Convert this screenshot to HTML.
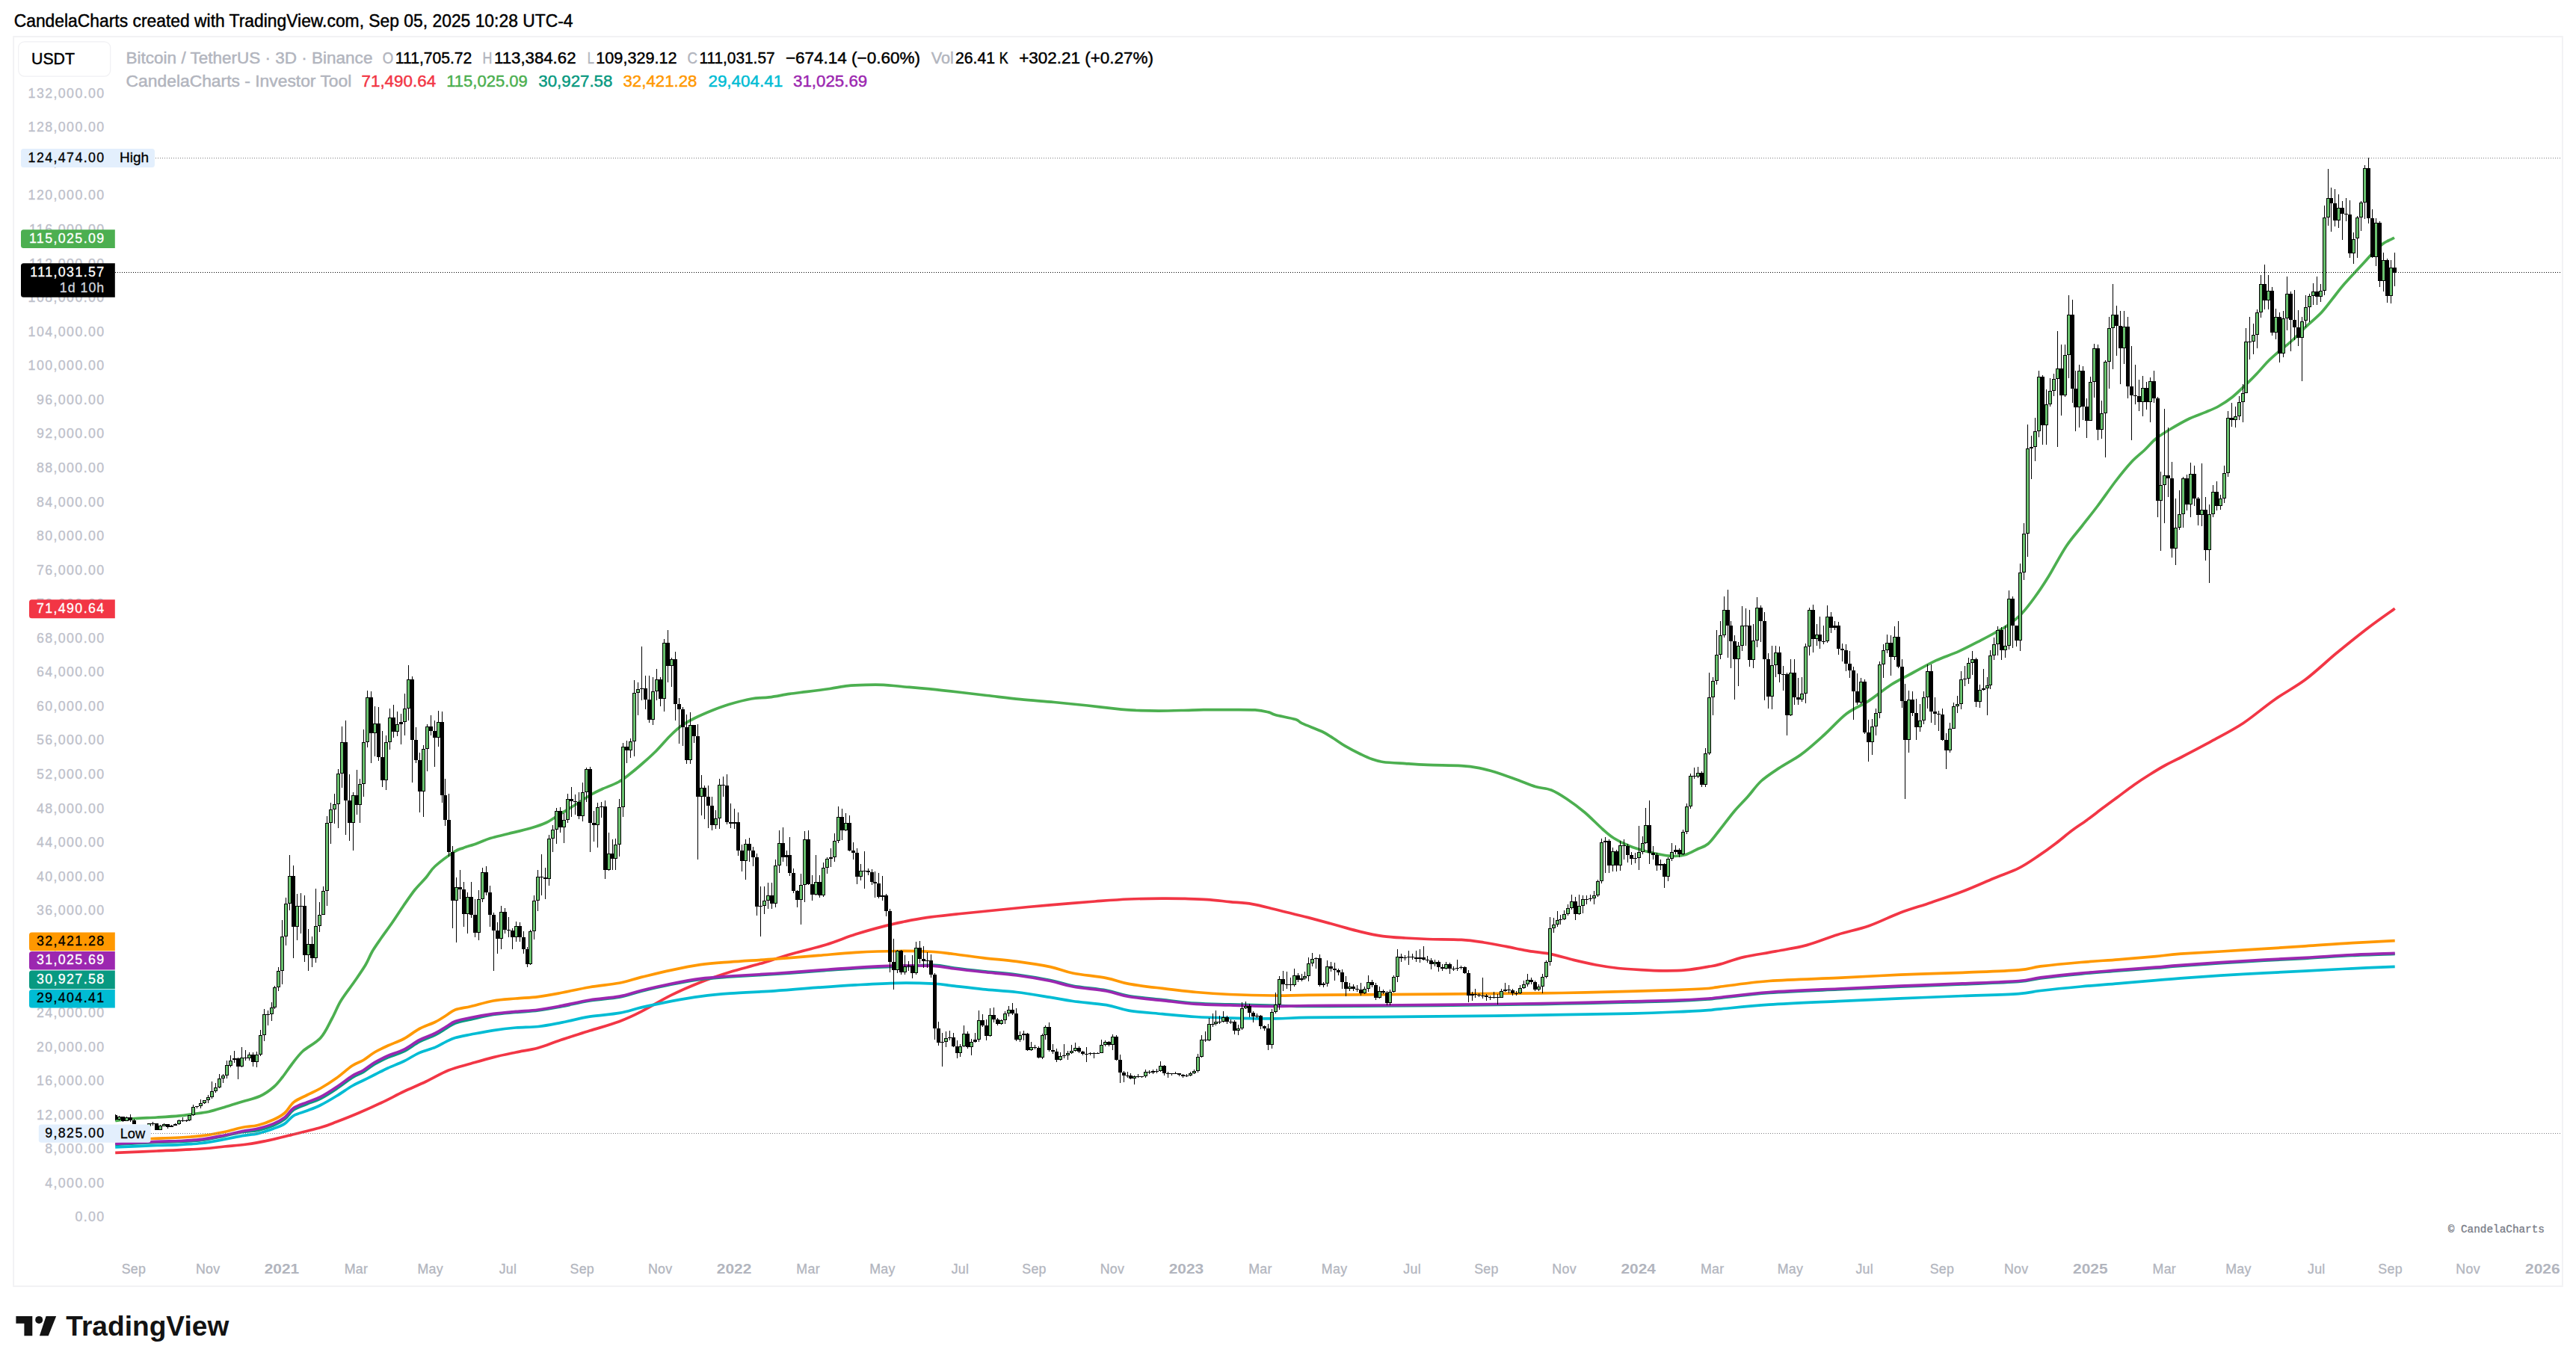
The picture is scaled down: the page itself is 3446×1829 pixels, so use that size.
<!DOCTYPE html>
<html lang="en"><head><meta charset="utf-8"><title>BTCUSDT 3D - CandelaCharts Investor Tool</title>
<style>html,body{margin:0;padding:0;background:#fff}body{width:3446px;height:1829px;overflow:hidden}svg{display:block}</style>
</head><body>
<svg width="3446" height="1829" viewBox="0 0 3446 1829" font-family="'Liberation Sans', sans-serif">
<rect width="3446" height="1829" fill="#fff"/>
<text x="18.7" y="36.1" font-size="23" fill="#000" textLength="747.8" lengthAdjust="spacingAndGlyphs" stroke="#000" stroke-width="0.45">CandelaCharts created with TradingView.com, Sep 05, 2025 10:28 UTC-4</text>
<rect x="18.1" y="49" width="3409.8" height="1671.9" fill="none" stroke="#f2f2f4" stroke-width="2"/>
<text x="140.6" y="1634.4" font-size="17.8" fill="#bdc0ca" text-anchor="end" stroke="#bdc0ca" stroke-width="0.3" letter-spacing="1.4">0.00</text>
<text x="140.6" y="1588.8" font-size="17.8" fill="#bdc0ca" text-anchor="end" stroke="#bdc0ca" stroke-width="0.3" letter-spacing="1.4">4,000.00</text>
<text x="140.6" y="1543.3" font-size="17.8" fill="#bdc0ca" text-anchor="end" stroke="#bdc0ca" stroke-width="0.3" letter-spacing="1.4">8,000.00</text>
<text x="140.6" y="1497.7" font-size="17.8" fill="#bdc0ca" text-anchor="end" stroke="#bdc0ca" stroke-width="0.3" letter-spacing="1.4">12,000.00</text>
<text x="140.6" y="1452.1" font-size="17.8" fill="#bdc0ca" text-anchor="end" stroke="#bdc0ca" stroke-width="0.3" letter-spacing="1.4">16,000.00</text>
<text x="140.6" y="1406.6" font-size="17.8" fill="#bdc0ca" text-anchor="end" stroke="#bdc0ca" stroke-width="0.3" letter-spacing="1.4">20,000.00</text>
<text x="140.6" y="1361.0" font-size="17.8" fill="#bdc0ca" text-anchor="end" stroke="#bdc0ca" stroke-width="0.3" letter-spacing="1.4">24,000.00</text>
<text x="140.6" y="1315.4" font-size="17.8" fill="#bdc0ca" text-anchor="end" stroke="#bdc0ca" stroke-width="0.3" letter-spacing="1.4">28,000.00</text>
<text x="140.6" y="1269.9" font-size="17.8" fill="#bdc0ca" text-anchor="end" stroke="#bdc0ca" stroke-width="0.3" letter-spacing="1.4">32,000.00</text>
<text x="140.6" y="1224.3" font-size="17.8" fill="#bdc0ca" text-anchor="end" stroke="#bdc0ca" stroke-width="0.3" letter-spacing="1.4">36,000.00</text>
<text x="140.6" y="1178.7" font-size="17.8" fill="#bdc0ca" text-anchor="end" stroke="#bdc0ca" stroke-width="0.3" letter-spacing="1.4">40,000.00</text>
<text x="140.6" y="1133.2" font-size="17.8" fill="#bdc0ca" text-anchor="end" stroke="#bdc0ca" stroke-width="0.3" letter-spacing="1.4">44,000.00</text>
<text x="140.6" y="1087.6" font-size="17.8" fill="#bdc0ca" text-anchor="end" stroke="#bdc0ca" stroke-width="0.3" letter-spacing="1.4">48,000.00</text>
<text x="140.6" y="1042.0" font-size="17.8" fill="#bdc0ca" text-anchor="end" stroke="#bdc0ca" stroke-width="0.3" letter-spacing="1.4">52,000.00</text>
<text x="140.6" y="996.4" font-size="17.8" fill="#bdc0ca" text-anchor="end" stroke="#bdc0ca" stroke-width="0.3" letter-spacing="1.4">56,000.00</text>
<text x="140.6" y="950.9" font-size="17.8" fill="#bdc0ca" text-anchor="end" stroke="#bdc0ca" stroke-width="0.3" letter-spacing="1.4">60,000.00</text>
<text x="140.6" y="905.3" font-size="17.8" fill="#bdc0ca" text-anchor="end" stroke="#bdc0ca" stroke-width="0.3" letter-spacing="1.4">64,000.00</text>
<text x="140.6" y="859.7" font-size="17.8" fill="#bdc0ca" text-anchor="end" stroke="#bdc0ca" stroke-width="0.3" letter-spacing="1.4">68,000.00</text>
<text x="140.6" y="814.2" font-size="17.8" fill="#bdc0ca" text-anchor="end" stroke="#bdc0ca" stroke-width="0.3" letter-spacing="1.4">72,000.00</text>
<text x="140.6" y="768.6" font-size="17.8" fill="#bdc0ca" text-anchor="end" stroke="#bdc0ca" stroke-width="0.3" letter-spacing="1.4">76,000.00</text>
<text x="140.6" y="723.0" font-size="17.8" fill="#bdc0ca" text-anchor="end" stroke="#bdc0ca" stroke-width="0.3" letter-spacing="1.4">80,000.00</text>
<text x="140.6" y="677.5" font-size="17.8" fill="#bdc0ca" text-anchor="end" stroke="#bdc0ca" stroke-width="0.3" letter-spacing="1.4">84,000.00</text>
<text x="140.6" y="631.9" font-size="17.8" fill="#bdc0ca" text-anchor="end" stroke="#bdc0ca" stroke-width="0.3" letter-spacing="1.4">88,000.00</text>
<text x="140.6" y="586.3" font-size="17.8" fill="#bdc0ca" text-anchor="end" stroke="#bdc0ca" stroke-width="0.3" letter-spacing="1.4">92,000.00</text>
<text x="140.6" y="540.8" font-size="17.8" fill="#bdc0ca" text-anchor="end" stroke="#bdc0ca" stroke-width="0.3" letter-spacing="1.4">96,000.00</text>
<text x="140.6" y="495.2" font-size="17.8" fill="#bdc0ca" text-anchor="end" stroke="#bdc0ca" stroke-width="0.3" letter-spacing="1.4">100,000.00</text>
<text x="140.6" y="449.6" font-size="17.8" fill="#bdc0ca" text-anchor="end" stroke="#bdc0ca" stroke-width="0.3" letter-spacing="1.4">104,000.00</text>
<text x="140.6" y="404.1" font-size="17.8" fill="#bdc0ca" text-anchor="end" stroke="#bdc0ca" stroke-width="0.3" letter-spacing="1.4">108,000.00</text>
<text x="140.6" y="358.5" font-size="17.8" fill="#bdc0ca" text-anchor="end" stroke="#bdc0ca" stroke-width="0.3" letter-spacing="1.4">112,000.00</text>
<text x="140.6" y="312.9" font-size="17.8" fill="#bdc0ca" text-anchor="end" stroke="#bdc0ca" stroke-width="0.3" letter-spacing="1.4">116,000.00</text>
<text x="140.6" y="267.4" font-size="17.8" fill="#bdc0ca" text-anchor="end" stroke="#bdc0ca" stroke-width="0.3" letter-spacing="1.4">120,000.00</text>
<text x="140.6" y="221.8" font-size="17.8" fill="#bdc0ca" text-anchor="end" stroke="#bdc0ca" stroke-width="0.3" letter-spacing="1.4">124,000.00</text>
<text x="140.6" y="176.2" font-size="17.8" fill="#bdc0ca" text-anchor="end" stroke="#bdc0ca" stroke-width="0.3" letter-spacing="1.4">128,000.00</text>
<text x="140.6" y="130.7" font-size="17.8" fill="#bdc0ca" text-anchor="end" stroke="#bdc0ca" stroke-width="0.3" letter-spacing="1.4">132,000.00</text>
<text x="178.9" y="1703.9" font-size="17.8" fill="#b2b5be" text-anchor="middle" stroke="#b2b5be" stroke-width="0.3" letter-spacing="0.3">Sep</text>
<text x="278.2" y="1703.9" font-size="17.8" fill="#b2b5be" text-anchor="middle" stroke="#b2b5be" stroke-width="0.3" letter-spacing="0.3">Nov</text>
<text x="377.0" y="1703.9" font-size="17.8" fill="#b2b5be" text-anchor="middle" font-weight="bold" textLength="46.5" lengthAdjust="spacingAndGlyphs">2021</text>
<text x="476.4" y="1703.9" font-size="17.8" fill="#b2b5be" text-anchor="middle" stroke="#b2b5be" stroke-width="0.3" letter-spacing="0.3">Mar</text>
<text x="575.7" y="1703.9" font-size="17.8" fill="#b2b5be" text-anchor="middle" stroke="#b2b5be" stroke-width="0.3" letter-spacing="0.3">May</text>
<text x="679.5" y="1703.9" font-size="17.8" fill="#b2b5be" text-anchor="middle" stroke="#b2b5be" stroke-width="0.3" letter-spacing="0.3">Jul</text>
<text x="778.8" y="1703.9" font-size="17.8" fill="#b2b5be" text-anchor="middle" stroke="#b2b5be" stroke-width="0.3" letter-spacing="0.3">Sep</text>
<text x="883.2" y="1703.9" font-size="17.8" fill="#b2b5be" text-anchor="middle" stroke="#b2b5be" stroke-width="0.3" letter-spacing="0.3">Nov</text>
<text x="982.1" y="1703.9" font-size="17.8" fill="#b2b5be" text-anchor="middle" font-weight="bold" textLength="46.5" lengthAdjust="spacingAndGlyphs">2022</text>
<text x="1081.1" y="1703.9" font-size="17.8" fill="#b2b5be" text-anchor="middle" stroke="#b2b5be" stroke-width="0.3" letter-spacing="0.3">Mar</text>
<text x="1180.4" y="1703.9" font-size="17.8" fill="#b2b5be" text-anchor="middle" stroke="#b2b5be" stroke-width="0.3" letter-spacing="0.3">May</text>
<text x="1284.5" y="1703.9" font-size="17.8" fill="#b2b5be" text-anchor="middle" stroke="#b2b5be" stroke-width="0.3" letter-spacing="0.3">Jul</text>
<text x="1383.5" y="1703.9" font-size="17.8" fill="#b2b5be" text-anchor="middle" stroke="#b2b5be" stroke-width="0.3" letter-spacing="0.3">Sep</text>
<text x="1487.9" y="1703.9" font-size="17.8" fill="#b2b5be" text-anchor="middle" stroke="#b2b5be" stroke-width="0.3" letter-spacing="0.3">Nov</text>
<text x="1587.0" y="1703.9" font-size="17.8" fill="#b2b5be" text-anchor="middle" font-weight="bold" textLength="46.5" lengthAdjust="spacingAndGlyphs">2023</text>
<text x="1686.0" y="1703.9" font-size="17.8" fill="#b2b5be" text-anchor="middle" stroke="#b2b5be" stroke-width="0.3" letter-spacing="0.3">Mar</text>
<text x="1785.1" y="1703.9" font-size="17.8" fill="#b2b5be" text-anchor="middle" stroke="#b2b5be" stroke-width="0.3" letter-spacing="0.3">May</text>
<text x="1889.1" y="1703.9" font-size="17.8" fill="#b2b5be" text-anchor="middle" stroke="#b2b5be" stroke-width="0.3" letter-spacing="0.3">Jul</text>
<text x="1988.4" y="1703.9" font-size="17.8" fill="#b2b5be" text-anchor="middle" stroke="#b2b5be" stroke-width="0.3" letter-spacing="0.3">Sep</text>
<text x="2092.6" y="1703.9" font-size="17.8" fill="#b2b5be" text-anchor="middle" stroke="#b2b5be" stroke-width="0.3" letter-spacing="0.3">Nov</text>
<text x="2191.7" y="1703.9" font-size="17.8" fill="#b2b5be" text-anchor="middle" font-weight="bold" textLength="46.5" lengthAdjust="spacingAndGlyphs">2024</text>
<text x="2290.7" y="1703.9" font-size="17.8" fill="#b2b5be" text-anchor="middle" stroke="#b2b5be" stroke-width="0.3" letter-spacing="0.3">Mar</text>
<text x="2394.9" y="1703.9" font-size="17.8" fill="#b2b5be" text-anchor="middle" stroke="#b2b5be" stroke-width="0.3" letter-spacing="0.3">May</text>
<text x="2494.2" y="1703.9" font-size="17.8" fill="#b2b5be" text-anchor="middle" stroke="#b2b5be" stroke-width="0.3" letter-spacing="0.3">Jul</text>
<text x="2597.9" y="1703.9" font-size="17.8" fill="#b2b5be" text-anchor="middle" stroke="#b2b5be" stroke-width="0.3" letter-spacing="0.3">Sep</text>
<text x="2697.2" y="1703.9" font-size="17.8" fill="#b2b5be" text-anchor="middle" stroke="#b2b5be" stroke-width="0.3" letter-spacing="0.3">Nov</text>
<text x="2796.3" y="1703.9" font-size="17.8" fill="#b2b5be" text-anchor="middle" font-weight="bold" textLength="46.5" lengthAdjust="spacingAndGlyphs">2025</text>
<text x="2895.3" y="1703.9" font-size="17.8" fill="#b2b5be" text-anchor="middle" stroke="#b2b5be" stroke-width="0.3" letter-spacing="0.3">Mar</text>
<text x="2994.5" y="1703.9" font-size="17.8" fill="#b2b5be" text-anchor="middle" stroke="#b2b5be" stroke-width="0.3" letter-spacing="0.3">May</text>
<text x="3098.8" y="1703.9" font-size="17.8" fill="#b2b5be" text-anchor="middle" stroke="#b2b5be" stroke-width="0.3" letter-spacing="0.3">Jul</text>
<text x="3197.6" y="1703.9" font-size="17.8" fill="#b2b5be" text-anchor="middle" stroke="#b2b5be" stroke-width="0.3" letter-spacing="0.3">Sep</text>
<text x="3301.6" y="1703.9" font-size="17.8" fill="#b2b5be" text-anchor="middle" stroke="#b2b5be" stroke-width="0.3" letter-spacing="0.3">Nov</text>
<text x="3401.3" y="1703.9" font-size="17.8" fill="#b2b5be" text-anchor="middle" font-weight="bold" textLength="46.5" lengthAdjust="spacingAndGlyphs">2026</text>
<g fill="none" stroke-width="3.7" stroke-linejoin="round" stroke-linecap="butt">
<path d="M154.2,1542.4C163.5,1542.0 190.7,1540.9 210.0,1540.0C229.3,1539.1 255.0,1538.0 270.0,1537.0C285.0,1536.0 290.0,1535.0 300.0,1534.0C310.0,1533.0 320.0,1532.4 330.0,1531.0C340.0,1529.6 350.0,1527.7 360.0,1525.6C370.0,1523.5 378.5,1521.3 390.0,1518.4C401.5,1515.6 419.0,1511.4 429.0,1508.5C439.0,1505.6 441.5,1504.3 450.0,1501.0C458.5,1497.8 470.0,1493.3 480.0,1489.0C490.0,1484.8 500.0,1480.3 510.0,1475.5C520.0,1470.8 530.0,1465.3 540.0,1460.5C550.0,1455.8 560.0,1451.8 570.0,1447.0C580.0,1442.3 590.0,1436.0 600.0,1432.0C610.0,1428.0 620.0,1425.9 630.0,1423.0C640.0,1420.1 650.0,1417.1 660.0,1414.6C670.0,1412.1 680.0,1410.1 690.0,1408.0C700.0,1405.9 710.0,1404.8 720.0,1402.0C730.0,1399.3 738.5,1395.3 750.0,1391.5C761.5,1387.7 775.8,1383.3 788.9,1379.1C802.0,1375.0 816.9,1371.0 828.4,1366.7C839.9,1362.4 846.5,1359.3 858.0,1353.4C869.6,1347.6 884.4,1338.2 897.6,1331.7C910.7,1325.2 923.9,1319.5 937.1,1314.3C950.2,1309.1 963.4,1304.6 976.6,1300.5C989.7,1296.4 1002.9,1293.5 1016.1,1289.6C1029.3,1285.8 1040.8,1281.5 1055.6,1277.2C1070.4,1272.9 1090.2,1268.5 1105.0,1264.0C1119.8,1259.4 1131.3,1254.3 1144.5,1250.1C1157.7,1245.9 1173.1,1241.7 1184.0,1238.9C1194.9,1236.0 1200.7,1234.9 1210.0,1233.0C1219.3,1231.1 1227.5,1229.4 1240.0,1227.6C1252.5,1225.9 1270.0,1224.1 1285.0,1222.5C1300.0,1220.9 1315.0,1219.5 1330.0,1218.0C1345.0,1216.5 1360.0,1214.9 1375.0,1213.5C1390.0,1212.1 1405.0,1210.9 1420.0,1209.6C1435.0,1208.4 1450.0,1207.1 1465.0,1206.0C1480.0,1204.9 1495.0,1203.7 1510.0,1203.0C1525.0,1202.4 1542.5,1202.2 1555.0,1202.1C1567.5,1202.0 1575.0,1202.2 1585.0,1202.4C1595.0,1202.7 1605.0,1202.9 1615.0,1203.6C1625.0,1204.3 1635.0,1205.6 1645.0,1206.6C1655.0,1207.6 1665.0,1208.0 1675.0,1209.6C1685.0,1211.3 1695.0,1214.1 1705.0,1216.5C1715.0,1218.9 1727.5,1222.2 1735.0,1224.0C1742.5,1225.9 1740.8,1225.2 1750.0,1227.6C1759.2,1230.0 1778.3,1235.3 1790.0,1238.5C1801.7,1241.7 1810.0,1244.3 1820.0,1246.6C1830.0,1249.0 1840.0,1251.2 1850.0,1252.6C1860.0,1254.0 1870.0,1254.4 1880.0,1255.0C1890.0,1255.7 1897.5,1256.1 1910.0,1256.5C1922.5,1256.9 1942.5,1256.7 1955.0,1257.4C1967.5,1258.2 1975.0,1259.5 1985.0,1261.0C1995.0,1262.5 2005.0,1264.5 2015.0,1266.4C2025.0,1268.3 2035.0,1270.7 2045.0,1272.4C2055.0,1274.1 2065.0,1274.6 2075.0,1276.6C2085.0,1278.6 2095.0,1282.0 2105.0,1284.4C2115.0,1286.8 2125.0,1289.2 2135.0,1291.0C2145.0,1292.9 2155.0,1294.4 2165.0,1295.5C2175.0,1296.6 2185.0,1297.1 2195.0,1297.6C2205.0,1298.2 2215.0,1298.8 2225.0,1298.8C2235.0,1298.9 2245.0,1298.8 2255.0,1297.9C2265.0,1297.0 2277.5,1294.7 2285.0,1293.4C2292.5,1292.2 2291.9,1292.6 2300.0,1290.4C2308.1,1288.2 2320.9,1283.3 2333.4,1280.4C2345.9,1277.5 2361.2,1275.6 2375.1,1272.9C2389.0,1270.3 2402.9,1268.3 2416.8,1264.6C2430.7,1260.8 2444.6,1254.7 2458.5,1250.4C2472.4,1246.1 2486.3,1243.6 2500.2,1238.7C2514.1,1233.9 2528.0,1226.4 2541.9,1221.2C2555.8,1216.0 2569.7,1212.2 2583.6,1207.4C2597.5,1202.7 2611.4,1198.2 2625.3,1192.8C2639.2,1187.5 2654.5,1180.5 2667.0,1175.3C2679.5,1170.1 2690.6,1166.4 2700.4,1161.6C2710.1,1156.7 2717.1,1151.7 2725.4,1146.1C2733.7,1140.6 2742.8,1134.0 2750.4,1128.2C2758.1,1122.4 2764.3,1116.7 2771.3,1111.5C2778.2,1106.3 2785.2,1102.0 2792.1,1096.9C2799.1,1091.9 2806.0,1086.3 2813.0,1081.1C2819.9,1075.9 2826.9,1070.8 2833.8,1065.7C2840.8,1060.5 2847.7,1055.1 2854.7,1050.2C2861.6,1045.4 2868.6,1040.8 2875.5,1036.5C2882.5,1032.1 2889.4,1027.8 2896.4,1024.0C2903.3,1020.1 2906.8,1018.9 2917.2,1013.5C2927.6,1008.1 2945.0,999.1 2958.9,991.4C2972.8,983.8 2986.7,976.8 3000.6,967.7C3014.5,958.5 3028.4,946.1 3042.3,936.4C3056.2,926.6 3070.1,919.7 3084.0,909.3C3097.9,898.8 3111.8,885.3 3125.7,873.8C3139.6,862.4 3154.4,850.4 3167.4,840.5C3180.4,830.5 3197.7,818.6 3203.7,814.2" stroke="#f23645"/>
<path d="M154.2,1499.5C158.5,1499.0 170.7,1497.3 180.0,1496.5C189.3,1495.8 200.0,1495.6 210.0,1495.0C220.0,1494.4 232.0,1493.7 240.0,1492.9C248.0,1492.2 251.5,1491.4 258.0,1490.5C264.5,1489.6 272.0,1489.0 279.0,1487.5C286.0,1486.0 292.5,1483.8 300.0,1481.5C307.5,1479.3 316.0,1476.5 324.0,1474.0C332.0,1471.5 341.0,1469.8 348.0,1466.5C355.0,1463.3 361.0,1458.8 366.0,1454.5C371.0,1450.3 374.0,1446.0 378.0,1441.0C382.0,1436.0 385.5,1430.3 390.0,1424.5C394.5,1418.8 398.5,1412.5 405.0,1406.5C411.5,1400.5 422.5,1395.8 429.0,1388.5C435.5,1381.3 439.5,1371.3 444.0,1363.0C448.5,1354.8 451.0,1347.3 456.0,1339.0C461.0,1330.8 468.5,1321.5 474.0,1313.5C479.5,1305.5 485.0,1297.8 489.0,1291.0C493.0,1284.3 494.5,1279.0 498.0,1273.0C501.5,1267.0 505.5,1261.5 510.0,1255.0C514.5,1248.5 520.0,1241.3 525.0,1234.0C530.0,1226.8 535.0,1218.8 540.0,1211.5C545.0,1204.3 550.0,1196.8 555.0,1190.5C560.0,1184.3 565.5,1179.3 570.0,1174.0C574.5,1168.8 575.7,1164.7 582.0,1159.0C588.3,1153.3 601.7,1143.6 608.0,1139.5C614.3,1135.4 615.0,1136.3 620.0,1134.4C625.0,1132.6 632.0,1130.6 638.0,1128.4C644.0,1126.3 649.0,1123.7 656.0,1121.5C663.0,1119.4 671.0,1117.8 680.0,1115.5C689.0,1113.3 701.5,1110.5 710.0,1108.0C718.5,1105.5 724.5,1103.6 731.0,1100.5C737.5,1097.4 742.5,1093.4 749.0,1089.4C755.5,1085.4 763.0,1080.9 770.0,1076.5C777.0,1072.1 785.0,1066.5 791.0,1063.0C797.0,1059.5 800.0,1058.3 806.0,1055.5C812.0,1052.8 821.0,1049.8 827.0,1046.5C833.0,1043.3 836.5,1040.3 842.0,1036.0C847.5,1031.8 854.0,1026.3 860.0,1021.0C866.0,1015.8 872.0,1010.5 878.0,1004.5C884.0,998.5 890.5,990.5 896.0,985.0C901.5,979.5 905.5,975.5 911.0,971.5C916.5,967.5 921.8,964.6 929.0,961.0C936.2,957.4 946.3,953.1 954.0,950.0C961.7,946.9 966.5,945.0 975.0,942.5C983.5,940.0 996.0,936.6 1005.0,935.0C1014.0,933.4 1020.5,934.0 1029.0,932.9C1037.5,931.8 1047.5,929.7 1056.0,928.4C1064.5,927.2 1071.0,926.6 1080.0,925.4C1089.0,924.3 1101.0,922.8 1110.0,921.5C1119.0,920.2 1126.0,918.5 1134.0,917.6C1142.0,916.8 1150.0,916.6 1158.0,916.4C1166.0,916.2 1174.0,916.1 1182.0,916.4C1190.0,916.8 1193.0,917.3 1206.0,918.5C1219.0,919.7 1241.0,921.6 1260.0,923.6C1279.0,925.6 1302.5,928.5 1320.0,930.5C1337.5,932.5 1350.0,934.1 1365.0,935.6C1380.0,937.1 1395.0,938.1 1410.0,939.5C1425.0,940.9 1440.0,942.4 1455.0,944.0C1470.0,945.6 1489.2,948.0 1500.0,949.1C1510.8,950.2 1511.7,950.2 1520.0,950.5C1528.3,950.8 1540.0,951.1 1550.0,951.1C1560.0,951.1 1570.0,950.8 1580.0,950.5C1590.0,950.3 1600.0,949.8 1610.0,949.6C1620.0,949.5 1628.5,949.6 1640.0,949.6C1651.5,949.7 1669.5,949.4 1679.0,949.9C1688.5,950.5 1692.5,951.8 1697.0,952.9C1701.5,954.0 1700.0,954.9 1706.0,956.5C1712.0,958.1 1727.0,960.6 1733.0,962.5C1739.0,964.4 1736.0,965.2 1742.0,967.9C1748.0,970.7 1762.0,975.7 1769.0,979.0C1776.0,982.4 1779.0,984.9 1784.0,988.0C1789.0,991.2 1793.0,994.4 1799.0,997.9C1805.0,1001.4 1814.0,1006.1 1820.0,1009.0C1826.0,1011.9 1830.0,1013.9 1835.0,1015.6C1840.0,1017.4 1842.5,1018.5 1850.0,1019.5C1857.5,1020.5 1870.0,1021.0 1880.0,1021.6C1890.0,1022.3 1897.5,1022.9 1910.0,1023.4C1922.5,1023.9 1943.5,1023.9 1955.0,1024.6C1966.5,1025.3 1971.5,1026.2 1979.0,1027.6C1986.5,1029.0 1991.5,1030.4 2000.0,1033.0C2008.5,1035.7 2021.0,1040.3 2030.0,1043.5C2039.0,1046.8 2046.5,1050.3 2054.0,1052.5C2061.5,1054.8 2068.0,1054.3 2075.0,1057.0C2082.0,1059.8 2088.5,1064.0 2096.0,1069.0C2103.5,1074.0 2112.0,1080.3 2120.0,1087.0C2128.0,1093.8 2137.5,1103.8 2144.0,1109.5C2150.5,1115.3 2153.0,1117.8 2159.0,1121.5C2165.0,1125.3 2172.5,1129.0 2180.0,1132.0C2187.5,1135.0 2196.5,1137.5 2204.0,1139.5C2211.5,1141.5 2219.0,1143.0 2225.0,1144.0C2231.0,1145.0 2235.0,1145.6 2240.0,1145.5C2245.0,1145.4 2250.0,1144.9 2255.0,1143.4C2260.0,1141.9 2265.0,1138.9 2270.0,1136.5C2275.0,1134.1 2280.0,1133.3 2285.0,1129.0C2290.0,1124.8 2294.2,1118.3 2300.0,1111.0C2305.8,1103.8 2313.7,1093.0 2320.0,1085.5C2326.3,1078.0 2332.0,1072.8 2338.0,1066.0C2344.0,1059.3 2349.0,1051.4 2356.0,1045.0C2363.0,1038.6 2371.0,1033.6 2380.0,1027.6C2389.0,1021.6 2400.0,1016.4 2410.0,1009.0C2420.0,1001.7 2430.0,992.5 2440.0,983.5C2450.0,974.5 2460.0,962.7 2470.0,955.0C2480.0,947.4 2490.0,944.1 2500.0,937.6C2510.0,931.1 2520.0,922.4 2530.0,916.0C2540.0,909.7 2550.0,904.9 2560.0,899.5C2570.0,894.1 2580.0,888.3 2590.0,883.6C2600.0,879.0 2610.0,876.1 2620.0,871.6C2630.0,867.1 2642.0,860.7 2650.0,856.6C2658.0,852.5 2662.0,850.4 2668.0,847.0C2674.0,843.7 2680.0,840.8 2686.0,836.5C2692.0,832.3 2698.0,827.8 2704.0,821.5C2710.0,815.3 2716.0,807.3 2722.0,799.0C2728.0,790.8 2733.0,783.3 2740.0,772.0C2747.0,760.7 2756.5,742.3 2764.0,731.0C2771.5,719.7 2778.0,713.0 2785.0,704.0C2792.0,695.0 2798.5,687.0 2806.0,677.0C2813.5,667.0 2822.5,653.8 2830.0,644.0C2837.5,634.3 2844.5,625.5 2851.0,618.5C2857.5,611.5 2863.5,607.3 2869.0,602.0C2874.5,596.8 2878.5,591.5 2884.0,587.0C2889.5,582.5 2894.5,579.5 2902.0,575.0C2909.5,570.5 2921.0,563.9 2929.0,560.0C2937.0,556.1 2943.5,554.4 2950.0,551.6C2956.5,548.9 2962.0,546.9 2968.0,543.5C2974.0,540.2 2980.0,536.3 2986.0,531.5C2992.0,526.8 2998.5,520.3 3004.0,515.0C3009.5,509.8 3014.0,505.3 3019.0,500.0C3024.0,494.8 3029.0,488.5 3034.0,483.5C3039.0,478.5 3043.5,474.8 3049.0,470.0C3054.5,465.3 3061.0,460.5 3067.0,455.0C3073.0,449.5 3078.5,443.3 3085.0,437.0C3091.5,430.8 3099.5,424.5 3106.0,417.5C3112.5,410.5 3119.0,401.3 3124.0,395.0C3129.0,388.8 3129.6,387.3 3136.0,380.0C3142.4,372.7 3156.0,358.3 3162.5,351.2C3169.0,344.2 3170.8,341.7 3175.0,337.5C3179.2,333.3 3184.2,328.8 3187.5,326.2C3190.8,323.7 3192.4,323.3 3195.0,322.0C3197.6,320.7 3201.7,318.9 3203.0,318.2" stroke="#4caf50"/>
<path d="M154.2,1531.4C163.5,1530.9 195.7,1529.1 210.0,1528.4C224.3,1527.8 230.0,1528.0 240.0,1527.5C250.0,1527.0 260.0,1526.7 270.0,1525.4C280.0,1524.2 291.0,1521.8 300.0,1520.0C309.0,1518.2 316.5,1515.9 324.0,1514.6C331.5,1513.3 338.0,1513.9 345.0,1512.4C352.0,1510.9 360.0,1508.3 366.0,1505.8C372.0,1503.3 376.5,1500.9 381.0,1497.4C385.5,1493.9 388.0,1488.2 393.0,1484.8C398.0,1481.4 405.0,1479.5 411.0,1477.0C417.0,1474.5 422.5,1473.2 429.0,1469.8C435.5,1466.5 443.0,1461.6 450.0,1456.9C457.0,1452.3 465.0,1445.7 471.0,1441.9C477.0,1438.2 481.0,1437.4 486.0,1434.4C491.0,1431.4 495.5,1427.2 501.0,1423.9C506.5,1420.7 512.5,1417.8 519.0,1414.9C525.5,1412.1 533.0,1410.3 540.0,1406.8C547.0,1403.3 554.0,1397.6 561.0,1393.9C568.0,1390.3 576.0,1387.9 582.0,1384.9C588.0,1381.9 592.5,1378.6 597.0,1375.9C601.5,1373.3 603.5,1371.0 609.0,1369.0C614.5,1367.0 621.5,1365.8 630.0,1363.9C638.5,1362.0 650.0,1359.0 660.0,1357.4C670.0,1355.8 680.0,1355.3 690.0,1354.4C700.0,1353.5 710.0,1353.3 720.0,1352.0C730.0,1350.8 738.5,1349.1 750.0,1346.9C761.5,1344.7 775.8,1341.2 788.9,1339.0C802.0,1336.9 816.9,1336.2 828.4,1334.1C839.9,1332.0 846.5,1329.0 858.0,1326.2C869.6,1323.4 884.4,1319.9 897.6,1317.3C910.7,1314.7 923.9,1312.1 937.1,1310.4C950.2,1308.7 960.1,1308.2 976.6,1307.0C993.0,1305.9 1016.1,1304.8 1035.8,1303.5C1055.6,1302.2 1077.0,1300.5 1095.1,1299.1C1113.2,1297.8 1127.0,1296.6 1144.5,1295.6C1162.0,1294.6 1182.6,1293.9 1200.0,1293.2C1217.4,1292.5 1236.3,1291.1 1249.0,1291.4C1261.7,1291.7 1265.0,1293.7 1276.0,1295.0C1287.0,1296.4 1301.0,1298.0 1315.0,1299.5C1329.0,1301.0 1345.0,1302.0 1360.0,1304.0C1375.0,1306.0 1392.5,1309.0 1405.0,1311.5C1417.5,1314.0 1422.5,1316.8 1435.0,1319.0C1447.5,1321.3 1467.5,1322.8 1480.0,1325.0C1492.5,1327.3 1497.5,1330.4 1510.0,1332.5C1522.5,1334.6 1540.0,1336.0 1555.0,1337.6C1570.0,1339.3 1585.0,1341.4 1600.0,1342.4C1615.0,1343.5 1627.5,1343.4 1645.0,1343.9C1662.5,1344.4 1687.5,1345.0 1705.0,1345.4C1722.5,1345.8 1725.8,1346.4 1750.0,1346.5C1774.2,1346.6 1808.3,1346.3 1850.0,1346.0C1891.7,1345.7 1960.0,1345.0 2000.0,1344.5C2040.0,1344.0 2060.0,1343.6 2090.0,1343.0C2120.0,1342.4 2155.0,1341.5 2180.0,1340.9C2205.0,1340.3 2222.5,1340.1 2240.0,1339.4C2257.5,1338.8 2275.0,1337.7 2285.0,1337.0C2295.0,1336.4 2286.4,1336.9 2300.0,1335.5C2313.6,1334.1 2340.3,1330.5 2366.8,1328.5C2393.2,1326.6 2429.3,1325.3 2458.5,1324.0C2487.7,1322.6 2514.1,1321.4 2541.9,1320.2C2569.7,1319.0 2598.9,1318.0 2625.3,1316.9C2651.7,1315.8 2683.0,1314.8 2700.4,1313.5C2717.8,1312.2 2715.7,1310.7 2729.6,1308.9C2743.5,1307.2 2766.4,1304.8 2783.8,1303.1C2801.2,1301.4 2817.1,1300.3 2833.8,1298.9C2850.5,1297.6 2870.0,1296.3 2883.9,1295.2C2897.8,1294.1 2897.8,1293.6 2917.2,1292.3C2936.7,1290.9 2972.8,1288.5 3000.6,1286.8C3028.4,1285.2 3059.7,1283.6 3084.0,1282.3C3108.4,1280.9 3126.6,1279.5 3146.6,1278.5C3166.5,1277.5 3194.2,1276.8 3203.7,1276.4" stroke="#089981"/>
<path d="M154.2,1525.0C162.3,1524.8 188.2,1524.0 202.5,1523.5C216.8,1523.0 228.8,1522.7 240.0,1522.0C251.3,1521.4 260.0,1520.9 270.0,1519.6C280.0,1518.4 291.0,1516.4 300.0,1514.5C309.0,1512.7 316.5,1510.0 324.0,1508.5C331.5,1507.0 338.0,1507.3 345.0,1505.5C352.0,1503.8 360.0,1500.8 366.0,1498.0C372.0,1495.3 376.5,1492.9 381.0,1489.0C385.5,1485.1 388.0,1478.6 393.0,1474.6C398.0,1470.6 405.0,1468.1 411.0,1465.0C417.0,1461.9 422.5,1459.8 429.0,1456.0C435.5,1452.3 443.0,1447.5 450.0,1442.5C457.0,1437.5 465.0,1430.0 471.0,1426.0C477.0,1422.0 481.0,1421.5 486.0,1418.5C491.0,1415.5 495.5,1411.3 501.0,1408.0C506.5,1404.8 512.5,1402.0 519.0,1399.0C525.5,1396.0 533.0,1393.8 540.0,1390.0C547.0,1386.3 554.0,1380.3 561.0,1376.5C568.0,1372.8 576.0,1370.5 582.0,1367.5C588.0,1364.5 592.5,1361.3 597.0,1358.5C601.5,1355.8 603.5,1353.0 609.0,1351.0C614.5,1349.0 621.5,1348.5 630.0,1346.5C638.5,1344.5 650.0,1340.8 660.0,1339.0C670.0,1337.3 680.0,1336.9 690.0,1336.0C700.0,1335.1 710.0,1334.9 720.0,1333.6C730.0,1332.4 738.5,1330.7 750.0,1328.5C761.5,1326.3 775.8,1322.9 788.9,1320.7C802.0,1318.5 816.9,1317.5 828.4,1315.3C839.9,1313.1 846.5,1310.3 858.0,1307.4C869.6,1304.6 884.4,1300.9 897.6,1298.1C910.7,1295.3 923.9,1292.5 937.1,1290.6C950.2,1288.8 960.1,1288.3 976.6,1287.1C993.0,1285.8 1016.1,1284.6 1035.8,1283.1C1055.6,1281.7 1077.0,1279.8 1095.1,1278.4C1113.2,1276.9 1127.0,1275.4 1144.5,1274.4C1162.0,1273.4 1182.6,1272.6 1200.0,1272.5C1217.4,1272.3 1236.3,1272.8 1249.0,1273.5C1261.7,1274.2 1265.0,1275.2 1276.0,1276.5C1287.0,1277.9 1301.0,1280.0 1315.0,1281.6C1329.0,1283.3 1345.0,1284.4 1360.0,1286.4C1375.0,1288.4 1392.5,1291.0 1405.0,1293.6C1417.5,1296.2 1422.5,1299.5 1435.0,1302.0C1447.5,1304.5 1467.5,1306.2 1480.0,1308.6C1492.5,1311.0 1497.5,1314.1 1510.0,1316.4C1522.5,1318.7 1540.0,1320.6 1555.0,1322.4C1570.0,1324.3 1585.0,1326.2 1600.0,1327.5C1615.0,1328.9 1627.5,1329.8 1645.0,1330.5C1662.5,1331.3 1687.5,1331.9 1705.0,1332.0C1722.5,1332.2 1725.8,1331.6 1750.0,1331.4C1774.2,1331.2 1808.3,1330.9 1850.0,1330.6C1891.7,1330.3 1960.0,1329.8 2000.0,1329.4C2040.0,1329.1 2060.0,1329.0 2090.0,1328.5C2120.0,1328.0 2155.0,1327.1 2180.0,1326.4C2205.0,1325.8 2222.5,1325.3 2240.0,1324.6C2257.5,1324.0 2275.0,1323.2 2285.0,1322.5C2295.0,1321.8 2286.4,1322.1 2300.0,1320.4C2313.6,1318.7 2340.3,1314.5 2366.8,1312.5C2393.2,1310.5 2429.3,1309.7 2458.5,1308.4C2487.7,1307.0 2514.1,1305.4 2541.9,1304.2C2569.7,1303.0 2598.9,1302.3 2625.3,1301.3C2651.7,1300.2 2683.0,1299.3 2700.4,1297.9C2717.8,1296.5 2715.7,1294.7 2729.6,1292.9C2743.5,1291.2 2766.4,1289.0 2783.8,1287.5C2801.2,1286.0 2817.1,1285.1 2833.8,1283.8C2850.5,1282.4 2870.0,1280.8 2883.9,1279.6C2897.8,1278.3 2897.8,1277.6 2917.2,1276.2C2936.7,1274.9 2972.8,1273.0 3000.6,1271.2C3028.4,1269.5 3059.7,1267.4 3084.0,1265.8C3108.4,1264.2 3126.6,1262.8 3146.6,1261.7C3166.5,1260.5 3194.2,1259.2 3203.7,1258.7" stroke="#ff9800"/>
<path d="M154.2,1534.9C163.5,1534.5 195.7,1533.1 210.0,1532.5C224.3,1532.0 230.0,1532.1 240.0,1531.6C250.0,1531.1 260.0,1530.7 270.0,1529.5C280.0,1528.3 291.0,1526.1 300.0,1524.4C309.0,1522.8 316.5,1520.9 324.0,1519.6C331.5,1518.3 338.0,1518.2 345.0,1516.6C352.0,1515.0 360.0,1512.2 366.0,1510.0C372.0,1507.8 376.5,1506.3 381.0,1503.4C385.5,1500.5 388.0,1495.5 393.0,1492.6C398.0,1489.7 405.0,1488.4 411.0,1486.0C417.0,1483.7 422.5,1481.8 429.0,1478.5C435.5,1475.3 443.0,1470.8 450.0,1466.5C457.0,1462.3 465.0,1456.5 471.0,1453.0C477.0,1449.5 481.0,1448.0 486.0,1445.5C491.0,1443.0 495.5,1440.8 501.0,1438.0C506.5,1435.3 512.5,1432.0 519.0,1429.0C525.5,1426.0 533.0,1423.4 540.0,1420.0C547.0,1416.6 554.0,1411.7 561.0,1408.6C568.0,1405.5 576.0,1403.9 582.0,1401.4C588.0,1398.9 592.5,1395.8 597.0,1393.6C601.5,1391.5 603.5,1390.1 609.0,1388.5C614.5,1386.9 621.5,1385.7 630.0,1384.0C638.5,1382.4 650.0,1380.1 660.0,1378.6C670.0,1377.1 680.0,1375.9 690.0,1375.0C700.0,1374.2 710.0,1374.6 720.0,1373.5C730.0,1372.4 738.5,1370.6 750.0,1368.4C761.5,1366.2 775.8,1362.3 788.9,1360.2C802.0,1358.0 816.9,1357.5 828.4,1355.4C839.9,1353.4 846.5,1350.6 858.0,1347.9C869.6,1345.3 884.4,1342.1 897.6,1339.6C910.7,1337.2 923.9,1334.8 937.1,1333.1C950.2,1331.4 960.1,1330.4 976.6,1329.2C993.0,1327.9 1016.1,1327.1 1035.8,1325.8C1055.6,1324.5 1077.0,1322.6 1095.1,1321.2C1113.2,1319.9 1127.0,1318.9 1144.5,1317.9C1162.0,1316.9 1182.6,1315.6 1200.0,1315.3C1217.4,1315.0 1236.3,1315.5 1249.0,1316.1C1261.7,1316.7 1265.0,1317.9 1276.0,1319.1C1287.0,1320.4 1301.0,1322.2 1315.0,1323.6C1329.0,1325.0 1345.0,1325.7 1360.0,1327.5C1375.0,1329.3 1392.5,1332.4 1405.0,1334.4C1417.5,1336.4 1422.5,1337.8 1435.0,1339.5C1447.5,1341.2 1467.5,1342.5 1480.0,1344.6C1492.5,1346.7 1497.5,1350.1 1510.0,1352.1C1522.5,1354.1 1540.0,1355.2 1555.0,1356.6C1570.0,1358.0 1585.0,1359.6 1600.0,1360.5C1615.0,1361.4 1627.5,1361.6 1645.0,1362.0C1662.5,1362.4 1687.5,1363.0 1705.0,1362.9C1722.5,1362.8 1725.8,1361.8 1750.0,1361.4C1774.2,1361.0 1808.3,1361.0 1850.0,1360.6C1891.7,1360.2 1960.0,1359.6 2000.0,1359.1C2040.0,1358.6 2060.0,1358.1 2090.0,1357.6C2120.0,1357.1 2155.0,1356.7 2180.0,1356.1C2205.0,1355.5 2222.5,1354.8 2240.0,1354.0C2257.5,1353.3 2275.0,1352.3 2285.0,1351.6C2295.0,1351.0 2286.4,1351.3 2300.0,1350.1C2313.6,1348.9 2340.3,1346.0 2366.8,1344.2C2393.2,1342.5 2429.3,1341.0 2458.5,1339.6C2487.7,1338.2 2514.1,1337.1 2541.9,1335.9C2569.7,1334.7 2598.9,1333.6 2625.3,1332.5C2651.7,1331.5 2683.0,1330.8 2700.4,1329.6C2717.8,1328.4 2715.7,1327.1 2729.6,1325.5C2743.5,1323.9 2766.4,1321.6 2783.8,1320.0C2801.2,1318.4 2817.1,1317.3 2833.8,1315.9C2850.5,1314.5 2870.0,1312.9 2883.9,1311.7C2897.8,1310.5 2897.8,1310.2 2917.2,1308.8C2936.7,1307.4 2972.8,1305.0 3000.6,1303.4C3028.4,1301.8 3059.7,1300.4 3084.0,1299.2C3108.4,1297.9 3126.6,1296.8 3146.6,1295.8C3166.5,1294.9 3194.2,1293.8 3203.7,1293.3" stroke="#00bcd4"/>
<path d="M154.2,1530.4C163.5,1529.9 195.7,1528.1 210.0,1527.4C224.3,1526.8 230.0,1527.0 240.0,1526.5C250.0,1526.0 260.0,1525.7 270.0,1524.4C280.0,1523.2 291.0,1520.8 300.0,1519.0C309.0,1517.2 316.5,1515.1 324.0,1513.6C331.5,1512.1 338.0,1511.7 345.0,1510.0C352.0,1508.3 360.0,1505.9 366.0,1503.4C372.0,1500.9 376.5,1498.5 381.0,1495.0C385.5,1491.5 388.0,1485.8 393.0,1482.4C398.0,1479.0 405.0,1477.1 411.0,1474.6C417.0,1472.1 422.5,1470.8 429.0,1467.4C435.5,1464.1 443.0,1459.2 450.0,1454.5C457.0,1449.9 465.0,1443.3 471.0,1439.5C477.0,1435.8 481.0,1435.0 486.0,1432.0C491.0,1429.0 495.5,1424.8 501.0,1421.5C506.5,1418.3 512.5,1415.4 519.0,1412.5C525.5,1409.7 533.0,1407.9 540.0,1404.4C547.0,1400.9 554.0,1395.2 561.0,1391.5C568.0,1387.9 576.0,1385.5 582.0,1382.5C588.0,1379.5 592.5,1376.2 597.0,1373.5C601.5,1370.9 603.5,1368.6 609.0,1366.6C614.5,1364.6 621.5,1363.2 630.0,1361.5C638.5,1359.8 650.0,1357.8 660.0,1356.4C670.0,1355.1 680.0,1354.3 690.0,1353.4C700.0,1352.5 710.0,1352.3 720.0,1351.0C730.0,1349.8 738.5,1348.1 750.0,1345.9C761.5,1343.7 775.8,1340.2 788.9,1338.0C802.0,1335.9 816.9,1335.2 828.4,1333.1C839.9,1331.0 846.5,1328.0 858.0,1325.2C869.6,1322.4 884.4,1318.9 897.6,1316.3C910.7,1313.7 923.9,1311.1 937.1,1309.4C950.2,1307.7 960.1,1307.2 976.6,1306.0C993.0,1304.9 1016.1,1303.8 1035.8,1302.5C1055.6,1301.2 1077.0,1299.5 1095.1,1298.1C1113.2,1296.8 1127.0,1295.6 1144.5,1294.6C1162.0,1293.6 1182.6,1292.6 1200.0,1292.2C1217.4,1291.8 1236.3,1291.8 1249.0,1292.4C1261.7,1293.0 1265.0,1294.7 1276.0,1296.0C1287.0,1297.4 1301.0,1299.0 1315.0,1300.5C1329.0,1302.0 1345.0,1303.0 1360.0,1305.0C1375.0,1307.0 1392.5,1310.0 1405.0,1312.5C1417.5,1315.0 1422.5,1317.8 1435.0,1320.0C1447.5,1322.3 1467.5,1323.8 1480.0,1326.0C1492.5,1328.3 1497.5,1331.4 1510.0,1333.5C1522.5,1335.6 1540.0,1337.0 1555.0,1338.6C1570.0,1340.3 1585.0,1342.4 1600.0,1343.4C1615.0,1344.5 1627.5,1344.4 1645.0,1344.9C1662.5,1345.4 1687.5,1346.3 1705.0,1346.4C1722.5,1346.5 1725.8,1345.7 1750.0,1345.5C1774.2,1345.3 1808.3,1345.3 1850.0,1345.0C1891.7,1344.7 1960.0,1344.0 2000.0,1343.5C2040.0,1343.0 2060.0,1342.6 2090.0,1342.0C2120.0,1341.4 2155.0,1340.5 2180.0,1339.9C2205.0,1339.3 2222.5,1339.1 2240.0,1338.4C2257.5,1337.8 2275.0,1336.7 2285.0,1336.0C2295.0,1335.4 2286.4,1335.9 2300.0,1334.5C2313.6,1333.1 2340.3,1329.5 2366.8,1327.5C2393.2,1325.6 2429.3,1324.3 2458.5,1323.0C2487.7,1321.6 2514.1,1320.4 2541.9,1319.2C2569.7,1318.0 2598.9,1317.0 2625.3,1315.9C2651.7,1314.8 2683.0,1313.8 2700.4,1312.5C2717.8,1311.2 2715.7,1309.7 2729.6,1307.9C2743.5,1306.2 2766.4,1303.8 2783.8,1302.1C2801.2,1300.4 2817.1,1299.3 2833.8,1297.9C2850.5,1296.6 2870.0,1295.3 2883.9,1294.2C2897.8,1293.1 2897.8,1292.6 2917.2,1291.3C2936.7,1289.9 2972.8,1287.5 3000.6,1285.8C3028.4,1284.2 3059.7,1282.6 3084.0,1281.3C3108.4,1279.9 3126.6,1278.5 3146.6,1277.5C3166.5,1276.5 3194.2,1275.8 3203.7,1275.4" stroke="#9c27b0"/>
</g>
<g shape-rendering="crispEdges" fill="none" stroke-width="1" stroke-dasharray="1 2">
<path d="M208,211.5H3427" stroke="#7d7d80"/>
<path d="M202,1516.5H3427" stroke="#7d7d80"/>
<path d="M154,364.5H3427" stroke="#000"/>
</g>
<clipPath id="plot"><rect x="154" y="50" width="3273" height="1620"/></clipPath>
<g shape-rendering="crispEdges" clip-path="url(#plot)">
<path d="M154.5,1491.3V1498.5M159.5,1493.3V1498.5M164.5,1493.9V1500.8M169.5,1494.1V1500.1M174.5,1491.0V1501.4M179.5,1496.8V1504.1M184.5,1505.1V1507.1M189.5,1506.7V1508.8M194.5,1506.7V1508.8M199.5,1502.5V1507.1M204.5,1501.2V1505.8M209.5,1502.7V1512.1M214.5,1505.1V1512.1M219.5,1502.7V1506.7M224.5,1503.8V1509.7M229.5,1505.0V1508.0M234.5,1502.8V1506.0M239.5,1498.1V1504.6M244.5,1494.6V1500.9M249.5,1498.2V1500.6M253.5,1491.9V1499.8M258.5,1477.5V1492.6M263.5,1479.6V1482.9M268.5,1470.9V1483.4M273.5,1471.5V1477.2M278.5,1465.0V1475.9M283.5,1446.5V1470.1M288.5,1448.5V1461.9M293.5,1437.3V1455.7M298.5,1436.6V1448.5M303.5,1418.9V1443.3M308.5,1412.3V1427.5M313.5,1406.3V1422.1M318.5,1415.2V1443.9M323.5,1401.1V1427.6M328.5,1405.0V1418.9M333.5,1407.7V1418.9M338.5,1408.3V1426.8M343.5,1407.4V1427.7M348.5,1378.0V1413.1M353.5,1350.3V1392.6M358.5,1351.6V1372.0M363.5,1341.4V1366.2M367.5,1318.7V1350.2M372.5,1294.0V1325.9M377.5,1231.0V1317.2M382.5,1201.0V1265.4M387.5,1144.0V1218.3M392.5,1157.5V1282.0M397.5,1195.6V1258.0M402.5,1195.0V1249.0M407.5,1198.0V1286.5M412.5,1243.0V1298.5M417.5,1253.1V1294.0M422.5,1189.0V1288.0M427.5,1207.0V1246.7M432.5,1186.0V1224.4M437.5,1091.5V1212.0M442.5,1073.5V1129.0M447.5,1062.4V1102.0M452.5,1028.5V1108.0M457.5,971.5V1053.7M462.5,964.0V1117.0M467.5,1036.0V1124.5M472.5,1060.0V1138.0M477.5,1030.0V1090.0M481.5,1042.0V1100.5M486.5,976.0V1066.0M491.5,923.5V1000.4M496.5,925.0V1021.0M501.5,944.5V1012.0M506.5,946.0V1018.0M511.5,977.5V1053.4M516.5,983.5V1056.8M521.5,947.5V1003.0M526.5,943.0V986.5M531.5,952.0V985.0M536.5,955.0V996.4M541.5,928.0V983.7M546.5,889.6V963.9M551.5,904.6V1047.4M556.5,973.0V1021.0M561.5,1007.0V1087.0M566.5,997.0V1093.0M571.5,968.5V1031.5M576.5,956.5V983.5M581.5,964.0V1025.5M586.5,951.4V998.5M591.5,952.0V1074.4M595.5,1042.0V1105.0M600.5,1061.5V1145.5M605.5,1132.0V1241.5M610.5,1174.0V1261.0M615.5,1163.5V1202.5M620.5,1180.0V1240.0M625.5,1193.5V1249.0M630.5,1180.0V1228.0M635.5,1202.8V1253.5M640.5,1190.5V1258.0M645.5,1160.5V1207.2M650.5,1159.0V1198.0M655.5,1185.0V1240.0M660.5,1220.5V1299.1M665.5,1233.9V1276.0M670.5,1211.5V1270.0M675.5,1214.5V1249.0M680.5,1226.5V1253.5M685.5,1242.0V1270.0M690.5,1232.5V1259.5M695.5,1234.0V1259.5M700.5,1246.0V1276.0M705.5,1267.0V1294.0M709.5,1244.2V1291.0M714.5,1198.0V1256.8M719.5,1163.5V1219.0M724.5,1143.4V1198.0M729.5,1160.8V1202.5M734.5,1117.0V1185.4M739.5,1103.5V1139.5M744.5,1081.0V1129.0M749.5,1080.4V1114.0M754.5,1087.8V1127.5M759.5,1061.5V1100.5M764.5,1053.4V1093.0M769.5,1063.0V1090.0M774.5,1060.0V1096.0M779.5,1046.5V1099.0M784.5,1027.0V1073.1M789.5,1026.4V1139.5M794.5,1084.9V1126.0M799.5,1073.5V1133.5M804.5,1072.6V1093.6M809.5,1070.5V1176.4M814.5,1114.0V1165.0M819.5,1123.0V1164.4M823.5,1121.5V1163.5M828.5,1069.0V1146.4M833.5,994.0V1093.0M838.5,991.0V1021.0M843.5,988.0V1013.5M848.5,910.0V1012.0M853.5,913.0V956.5M858.5,865.0V937.0M863.5,904.0V949.0M868.5,904.0V967.0M873.5,906.2V970.0M878.5,895.0V936.8M883.5,905.5V944.5M888.5,855.4V952.2M893.5,842.8V913.0M898.5,880.0V919.0M903.5,872.0V963.5M908.5,934.4V995.0M913.5,945.9V998.0M918.5,956.0V1022.0M923.5,953.0V1022.0M928.5,970.4V993.5M933.5,969.3V1149.5M938.5,1037.0V1091.0M942.5,1050.5V1095.5M947.5,1050.5V1107.5M952.5,1065.5V1110.5M957.5,1084.2V1109.0M962.5,1041.5V1108.9M967.5,1038.5V1065.5M972.5,1035.5V1103.0M977.5,1074.5V1107.5M982.5,1082.0V1109.0M987.5,1086.5V1145.0M992.5,1130.3V1166.0M997.5,1122.5V1176.5M1002.5,1121.0V1152.5M1007.5,1133.0V1158.5M1012.5,1142.3V1224.5M1017.5,1185.5V1252.7M1022.5,1185.5V1223.0M1027.5,1181.0V1215.5M1032.5,1181.0V1215.5M1037.5,1149.5V1214.1M1042.5,1110.5V1167.6M1047.5,1106.6V1152.5M1052.5,1137.5V1158.5M1056.5,1119.5V1172.0M1061.5,1161.5V1194.5M1066.5,1190.5V1214.0M1071.5,1169.0V1236.5M1076.5,1112.0V1206.5M1081.5,1111.4V1184.0M1086.5,1171.0V1205.0M1091.5,1143.5V1197.5M1096.5,1170.5V1200.5M1101.5,1154.0V1199.6M1106.5,1146.5V1169.0M1111.5,1134.5V1160.0M1116.5,1115.0V1152.5M1121.5,1079.0V1127.6M1126.5,1082.0V1124.0M1131.5,1088.0V1112.0M1136.5,1091.0V1139.0M1141.5,1127.0V1149.5M1146.5,1134.5V1182.5M1151.5,1155.5V1178.0M1156.5,1139.0V1188.5M1161.5,1161.5V1170.5M1166.5,1163.0V1184.0M1170.5,1166.0V1200.5M1175.5,1167.5V1202.0M1180.5,1172.0V1205.0M1185.5,1195.8V1226.0M1190.5,1216.3V1300.6M1195.5,1256.4V1323.6M1200.5,1270.5V1302.0M1205.5,1270.5V1303.5M1210.5,1278.0V1303.5M1215.5,1285.5V1299.0M1220.5,1278.0V1308.6M1225.5,1260.0V1303.5M1230.5,1258.5V1288.5M1235.5,1266.0V1294.5M1240.5,1273.5V1294.5M1245.5,1276.5V1308.0M1250.5,1301.8V1390.5M1255.5,1366.5V1398.6M1260.5,1381.5V1426.5M1265.5,1380.0V1401.0M1270.5,1378.5V1392.0M1275.5,1381.5V1401.0M1280.5,1392.0V1416.0M1284.5,1397.3V1413.6M1289.5,1371.6V1401.0M1294.5,1380.0V1402.5M1299.5,1389.7V1412.4M1304.5,1381.5V1395.0M1309.5,1351.5V1393.5M1314.5,1356.6V1374.0M1319.5,1363.8V1392.0M1324.5,1349.4V1386.6M1329.5,1347.6V1368.0M1334.5,1362.0V1371.6M1339.5,1364.1V1371.0M1344.5,1353.0V1369.5M1349.5,1345.5V1359.6M1354.5,1341.6V1357.5M1359.5,1349.4V1392.6M1364.5,1380.0V1393.5M1369.5,1378.5V1392.0M1374.5,1381.5V1406.4M1379.5,1393.5V1405.5M1384.5,1398.0V1404.0M1389.5,1399.5V1416.0M1394.5,1383.0V1416.6M1398.5,1371.6V1391.1M1403.5,1368.0V1407.0M1408.5,1396.5V1410.0M1413.5,1402.5V1421.4M1418.5,1407.9V1419.0M1423.5,1396.5V1416.0M1428.5,1405.7V1417.5M1433.5,1398.0V1410.0M1438.5,1395.0V1407.0M1443.5,1399.5V1408.5M1448.5,1405.6V1412.4M1453.5,1401.0V1420.5M1458.5,1408.4V1411.5M1463.5,1408.2V1416.0M1468.5,1407.7V1410.0M1473.5,1390.5V1409.4M1478.5,1392.0V1399.5M1483.5,1392.6V1400.4M1488.5,1383.6V1405.2M1493.5,1384.5V1419.0M1498.5,1410.6V1449.0M1503.5,1432.5V1447.5M1508.5,1434.0V1441.5M1512.5,1435.5V1443.6M1517.5,1439.3V1451.4M1522.5,1437.0V1442.4M1527.5,1439.6V1441.5M1532.5,1431.0V1441.5M1537.5,1431.6V1437.0M1542.5,1431.0V1437.0M1547.5,1430.4V1435.5M1552.5,1419.6V1434.0M1557.5,1425.0V1438.5M1562.5,1434.0V1442.4M1567.5,1435.7V1438.5M1572.5,1434.0V1437.0M1577.5,1435.5V1440.0M1582.5,1436.9V1441.5M1587.5,1437.2V1440.9M1592.5,1434.0V1440.0M1597.5,1431.0V1437.0M1602.5,1410.0V1434.8M1607.5,1384.5V1414.5M1612.5,1380.0V1393.5M1617.5,1362.0V1392.5M1622.5,1356.0V1374.0M1626.5,1351.5V1371.6M1631.5,1359.0V1369.5M1636.5,1353.0V1368.0M1641.5,1359.0V1369.5M1646.5,1363.5V1369.5M1651.5,1365.0V1383.6M1656.5,1371.0V1384.5M1661.5,1341.0V1378.3M1666.5,1340.4V1350.0M1671.5,1342.5V1360.5M1676.5,1353.0V1368.0M1681.5,1356.0V1362.0M1686.5,1357.5V1377.0M1691.5,1371.6V1378.5M1696.5,1370.2V1404.6M1701.5,1350.0V1402.5M1706.5,1328.4V1356.0M1711.5,1306.0V1351.2M1716.5,1298.5V1325.5M1721.5,1300.0V1322.5M1726.5,1307.5V1326.4M1731.5,1295.5V1319.5M1736.5,1301.5V1313.5M1741.5,1303.0V1312.6M1745.5,1300.0V1310.5M1750.5,1280.5V1312.7M1755.5,1274.5V1293.4M1760.5,1280.5V1295.5M1765.5,1277.1V1320.4M1770.5,1313.5V1321.0M1775.5,1285.0V1320.1M1780.5,1286.5V1300.0M1785.5,1288.0V1312.0M1790.5,1295.5V1304.5M1795.5,1297.0V1322.5M1800.5,1306.0V1333.0M1805.5,1315.0V1325.5M1810.5,1316.5V1325.5M1815.5,1318.0V1327.0M1820.5,1315.0V1331.5M1825.5,1319.5V1330.0M1830.5,1304.5V1327.0M1835.5,1310.5V1321.0M1840.5,1315.0V1337.5M1845.5,1319.5V1336.0M1850.5,1324.0V1330.0M1855.5,1325.5V1345.0M1859.5,1324.0V1345.0M1864.5,1304.5V1328.0M1869.5,1270.0V1314.0M1874.5,1276.0V1286.5M1879.5,1277.5V1285.0M1884.5,1271.5V1291.0M1889.5,1276.0V1283.5M1894.5,1271.5V1286.5M1899.5,1270.0V1288.0M1904.5,1265.5V1285.0M1909.5,1279.0V1288.0M1914.5,1282.0V1297.0M1919.5,1283.5V1292.5M1924.5,1285.0V1300.0M1929.5,1289.5V1298.5M1934.5,1286.5V1297.0M1939.5,1288.0V1303.0M1944.5,1292.5V1298.5M1949.5,1283.5V1298.5M1954.5,1291.6V1297.0M1959.5,1292.5V1303.0M1964.5,1298.1V1340.5M1969.5,1327.0V1339.0M1973.5,1323.4V1334.5M1978.5,1328.5V1333.6M1983.5,1307.5V1336.0M1988.5,1330.0V1339.0M1993.5,1331.5V1337.5M1998.5,1327.0V1336.0M2003.5,1330.0V1343.5M2008.5,1323.4V1335.4M2013.5,1315.0V1327.0M2018.5,1318.0V1328.5M2023.5,1322.5V1331.5M2028.5,1325.5V1331.5M2033.5,1318.0V1330.0M2038.5,1312.0V1322.5M2043.5,1303.0V1319.6M2048.5,1307.5V1316.5M2053.5,1312.0V1325.5M2058.5,1316.5V1325.5M2063.5,1303.0V1328.5M2068.5,1285.0V1309.0M2073.5,1226.5V1291.5M2078.5,1228.0V1247.5M2083.5,1219.0V1240.0M2087.5,1223.5V1237.0M2092.5,1217.5V1231.0M2097.5,1210.0V1225.0M2102.5,1196.5V1217.2M2107.5,1199.5V1231.0M2112.5,1196.5V1223.5M2117.5,1198.0V1222.0M2122.5,1198.0V1210.0M2127.5,1196.5V1205.5M2132.5,1192.0V1210.0M2137.5,1177.0V1199.5M2142.5,1122.4V1181.6M2147.5,1120.0V1168.0M2152.5,1123.0V1168.0M2157.5,1133.5V1165.6M2162.5,1136.5V1165.6M2167.5,1124.5V1165.1M2172.5,1123.0V1150.0M2177.5,1129.0V1153.6M2182.5,1139.5V1156.6M2187.5,1141.0V1154.5M2192.5,1105.0V1163.5M2197.5,1118.5V1142.5M2201.5,1081.0V1128.8M2206.5,1071.4V1156.0M2211.5,1132.0V1150.0M2216.5,1141.0V1165.0M2221.5,1150.0V1163.5M2226.5,1154.5V1188.4M2231.5,1147.0V1178.5M2236.5,1128.4V1151.5M2241.5,1130.5V1142.5M2246.5,1135.0V1147.0M2251.5,1109.5V1144.1M2256.5,1075.0V1115.6M2261.5,1034.5V1081.5M2266.5,1027.0V1042.0M2271.5,1025.5V1040.5M2276.5,1031.5V1052.5M2281.5,1000.8V1052.8M2286.5,899.5V1010.0M2291.5,905.5V956.5M2296.5,843.4V916.0M2301.5,831.4V881.5M2306.5,797.5V853.0M2311.5,788.5V880.0M2315.5,830.5V893.5M2320.5,850.0V935.5M2325.5,859.0V918.4M2330.5,811.0V871.0M2335.5,814.0V863.5M2340.5,815.5V892.0M2345.5,835.0V893.5M2350.5,799.0V866.2M2355.5,809.5V859.0M2360.5,818.5V937.0M2365.5,874.0V948.4M2370.5,863.5V949.0M2375.5,863.5V905.5M2380.5,865.0V913.0M2385.5,890.5V923.5M2390.5,899.7V983.5M2395.5,882.4V958.0M2400.5,882.4V943.0M2405.5,907.0V943.0M2410.5,905.5V938.5M2415.5,860.5V941.1M2420.5,812.5V877.0M2425.5,808.6V872.5M2430.5,835.0V863.5M2434.5,824.5V868.0M2439.5,836.5V862.0M2444.5,809.5V859.5M2449.5,818.5V847.0M2454.5,830.5V842.5M2459.5,832.0V875.5M2464.5,860.5V884.5M2469.5,862.0V898.0M2474.5,871.0V907.0M2479.5,892.3V962.5M2484.5,901.0V943.0M2489.5,907.0V941.5M2494.5,908.5V982.0M2499.5,962.5V1018.6M2504.5,962.4V1009.6M2509.5,947.5V983.5M2514.5,884.5V961.2M2519.5,862.0V907.0M2524.5,848.5V874.0M2529.5,850.0V904.0M2534.5,838.0V883.4M2539.5,830.5V893.5M2544.5,881.5V946.6M2548.5,914.5V1069.0M2553.5,923.5V1006.6M2558.5,925.0V958.0M2563.5,934.7V990.4M2568.5,941.5V979.0M2573.5,925.0V968.5M2578.5,889.0V947.6M2583.5,889.0V967.0M2588.5,932.5V970.0M2593.5,950.5V977.5M2598.5,947.5V991.0M2603.5,980.5V1029.4M2608.5,967.0V1006.6M2613.5,940.0V975.4M2618.5,931.0V953.5M2623.5,898.0V948.6M2628.5,890.5V917.5M2633.5,880.0V914.7M2638.5,871.0V902.5M2643.5,879.9V946.0M2648.5,916.0V946.6M2653.5,895.0V923.5M2658.5,905.5V956.5M2662.5,869.5V922.0M2667.5,853.0V883.0M2672.5,838.0V877.0M2677.5,838.6V883.0M2682.5,837.4V880.0M2687.5,790.0V868.8M2692.5,797.5V866.5M2697.5,836.5V865.0M2702.5,753.5V871.3M2707.5,700.4V776.1M2712.5,567.5V744.9M2717.5,582.5V641.0M2722.5,559.4V617.0M2727.5,495.5V584.5M2732.5,501.5V594.5M2737.5,521.0V594.5M2742.5,506.0V543.5M2747.5,500.0V530.0M2752.5,443.0V597.5M2757.5,461.0V555.5M2762.5,461.0V531.3M2767.5,395.0V505.9M2772.5,401.0V539.0M2776.5,495.5V577.4M2781.5,488.0V572.0M2786.5,489.5V561.5M2791.5,533.0V585.5M2796.5,504.2V563.0M2801.5,459.5V532.4M2806.5,461.0V589.4M2811.5,536.0V587.0M2816.5,482.0V611.6M2821.5,423.5V519.5M2826.5,380.0V494.0M2831.5,409.4V476.0M2836.5,416.0V513.5M2841.5,416.0V486.5M2846.5,423.5V533.0M2851.5,462.5V589.4M2856.5,488.0V540.5M2861.5,507.5V549.5M2866.5,503.0V557.0M2871.5,510.5V548.0M2876.5,504.5V564.5M2881.5,496.4V539.0M2886.5,530.6V692.0M2890.5,631.4V737.0M2895.5,547.4V699.5M2900.5,572.0V665.0M2905.5,618.3V746.0M2910.5,666.5V755.6M2915.5,656.0V708.5M2920.5,638.0V705.5M2925.5,635.0V683.0M2930.5,618.5V692.4M2935.5,623.0V677.0M2940.5,665.0V702.5M2945.5,620.0V704.0M2950.5,665.0V749.6M2955.5,674.7V779.6M2960.5,648.5V692.0M2965.5,644.0V683.0M2970.5,662.0V681.5M2975.5,623.0V672.9M2980.5,549.5V638.0M2985.5,539.0V570.5M2990.5,543.5V572.0M2995.5,530.0V561.5M3000.5,513.5V564.5M3004.5,438.8V526.4M3009.5,423.8V481.2M3014.5,432.5V473.8M3019.5,413.8V466.2M3024.5,367.5V424.5M3029.5,353.8V413.8M3034.5,367.5V413.8M3039.5,383.8V448.8M3044.5,412.5V453.8M3049.5,418.0V485.0M3054.5,416.2V477.5M3059.5,370.0V442.1M3064.5,390.0V470.0M3069.5,387.5V455.0M3074.5,415.0V462.5M3079.5,423.8V509.5M3084.5,395.0V437.5M3089.5,392.5V431.2M3094.5,378.8V407.5M3099.5,370.0V407.5M3104.5,380.0V403.8M3109.5,275.0V394.5M3114.5,225.8V301.8M3118.5,251.2V310.0M3123.5,253.0V302.5M3128.5,260.0V305.0M3133.5,268.8V321.2M3138.5,265.0V296.2M3143.5,268.0V344.5M3148.5,311.2V353.0M3153.5,288.8V345.0M3158.5,268.8V308.8M3163.5,220.5V292.5M3168.5,211.2V298.8M3173.5,279.5V345.0M3178.5,292.0V356.2M3183.5,295.5V383.8M3188.5,337.5V390.0M3193.5,346.2V405.0M3198.5,348.0V406.2M3203.5,338.0V383.0" stroke="#000" stroke-width="1" fill="none"/>
<path d="M157.00,1494.3h5v4.0h-5zM167.00,1495.2h5v4.6h-5zM192.00,1507.1h5v1.3h-5zM197.00,1503.3h5v3.8h-5zM202.00,1503.3h5v1.0h-5zM212.00,1506.4h5v5.3h-5zM217.00,1504.1h5v2.4h-5zM227.00,1505.8h5v1.8h-5zM232.00,1503.8h5v2.0h-5zM237.00,1499.2h5v4.6h-5zM242.00,1499.2h5v1.0h-5zM247.00,1498.5h5v1.0h-5zM251.00,1492.2h5v6.3h-5zM256.00,1481.4h5v10.8h-5zM261.00,1480.1h5v1.3h-5zM266.00,1476.1h5v4.0h-5zM271.00,1472.2h5v4.0h-5zM276.00,1467.6h5v4.6h-5zM281.00,1459.7h5v7.9h-5zM286.00,1455.1h5v4.6h-5zM291.00,1442.6h5v12.5h-5zM296.00,1438.6h5v4.0h-5zM301.00,1425.4h5v13.2h-5zM306.00,1418.5h5v7.0h-5zM311.00,1416.2h5v2.2h-5zM321.00,1414.9h5v11.9h-5zM331.00,1410.6h5v5.7h-5zM341.00,1410.9h5v9.6h-5zM346.00,1385.3h5v25.7h-5zM351.00,1357.0h5v28.3h-5zM356.00,1357.0h5v1.0h-5zM361.00,1348.0h5v9.0h-5zM365.00,1321.0h5v27.0h-5zM370.00,1299.4h5v21.6h-5zM375.00,1252.6h5v46.8h-5zM380.00,1209.4h5v43.2h-5zM385.00,1171.6h5v37.8h-5zM395.00,1211.5h5v28.5h-5zM400.00,1211.5h5v1.0h-5zM410.00,1262.5h5v15.0h-5zM420.00,1238.5h5v43.5h-5zM425.00,1224.4h5v14.1h-5zM430.00,1192.0h5v32.4h-5zM435.00,1100.5h5v91.5h-5zM440.00,1082.5h5v18.0h-5zM445.00,1075.6h5v6.9h-5zM450.00,1035.4h5v40.2h-5zM455.00,992.5h5v42.9h-5zM470.00,1063.9h5v37.5h-5zM479.00,1048.6h5v28.8h-5zM484.00,992.5h5v56.1h-5zM489.00,932.5h5v60.0h-5zM499.00,967.6h5v12.9h-5zM514.00,993.4h5v51.0h-5zM519.00,959.5h5v33.9h-5zM529.00,968.5h5v10.5h-5zM534.00,966.4h5v2.1h-5zM539.00,947.5h5v18.9h-5zM544.00,909.4h5v38.1h-5zM564.00,1002.4h5v56.1h-5zM569.00,971.5h5v30.9h-5zM584.00,965.5h5v21.0h-5zM608.00,1186.6h5v18.0h-5zM623.00,1200.4h5v22.2h-5zM638.00,1203.4h5v45.0h-5zM643.00,1167.4h5v36.0h-5zM668.00,1219.6h5v36.0h-5zM688.00,1238.5h5v15.0h-5zM707.00,1246.0h5v43.5h-5zM712.00,1204.6h5v41.4h-5zM717.00,1172.5h5v32.1h-5zM732.00,1121.5h5v54.9h-5zM737.00,1109.5h5v12.0h-5zM742.00,1084.6h5v24.9h-5zM752.00,1096.6h5v9.9h-5zM757.00,1069.0h5v27.6h-5zM777.00,1060.0h5v32.4h-5zM782.00,1029.4h5v30.6h-5zM797.00,1080.4h5v24.0h-5zM802.00,1078.6h5v1.8h-5zM812.00,1141.6h5v22.8h-5zM821.00,1129.6h5v18.9h-5zM826.00,1079.5h5v50.1h-5zM831.00,998.5h5v81.0h-5zM841.00,991.6h5v12.0h-5zM846.00,926.5h5v65.1h-5zM851.00,922.0h5v4.5h-5zM856.00,921.4h5v1.0h-5zM871.00,925.0h5v38.4h-5zM876.00,908.5h5v16.5h-5zM886.00,859.6h5v75.0h-5zM896.00,882.4h5v9.0h-5zM921.00,970.4h5v46.2h-5zM936.00,1053.5h5v12.9h-5zM955.00,1094.6h5v9.0h-5zM960.00,1049.6h5v45.0h-5zM980.00,1100.0h5v2.4h-5zM995.00,1128.5h5v23.1h-5zM1015.00,1211.6h5v1.8h-5zM1020.00,1205.0h5v6.6h-5zM1025.00,1197.5h5v7.5h-5zM1035.00,1157.6h5v51.0h-5zM1040.00,1127.6h5v30.0h-5zM1050.00,1144.4h5v2.1h-5zM1069.00,1184.0h5v20.4h-5zM1074.00,1122.5h5v61.5h-5zM1089.00,1179.5h5v17.1h-5zM1099.00,1160.6h5v37.8h-5zM1104.00,1148.6h5v12.0h-5zM1109.00,1146.5h5v2.1h-5zM1114.00,1124.6h5v21.9h-5zM1119.00,1092.5h5v32.1h-5zM1129.00,1100.6h5v9.9h-5zM1149.00,1165.4h5v7.2h-5zM1154.00,1164.5h5v1.0h-5zM1178.00,1198.4h5v1.2h-5zM1198.00,1272.0h5v25.5h-5zM1208.00,1293.0h5v8.1h-5zM1213.00,1291.5h5v1.5h-5zM1223.00,1267.5h5v34.5h-5zM1238.00,1284.9h5v1.5h-5zM1258.00,1394.4h5v1.0h-5zM1263.00,1389.0h5v5.4h-5zM1268.00,1388.4h5v1.0h-5zM1282.00,1399.5h5v9.9h-5zM1287.00,1383.0h5v16.5h-5zM1297.00,1393.5h5v7.5h-5zM1302.00,1391.4h5v2.1h-5zM1307.00,1365.0h5v26.4h-5zM1322.00,1358.4h5v27.6h-5zM1337.00,1365.0h5v5.4h-5zM1342.00,1356.0h5v9.0h-5zM1347.00,1350.6h5v5.4h-5zM1362.00,1384.5h5v6.6h-5zM1367.00,1383.0h5v1.5h-5zM1377.00,1401.0h5v3.9h-5zM1392.00,1385.4h5v29.1h-5zM1396.00,1374.0h5v11.4h-5zM1416.00,1413.0h5v5.4h-5zM1421.00,1411.5h5v1.5h-5zM1426.00,1408.5h5v3.0h-5zM1431.00,1405.5h5v3.0h-5zM1436.00,1401.6h5v3.9h-5zM1451.00,1410.0h5v1.0h-5zM1456.00,1409.1h5v1.0h-5zM1466.00,1408.5h5v1.0h-5zM1471.00,1398.0h5v10.5h-5zM1476.00,1394.4h5v3.6h-5zM1486.00,1386.6h5v11.4h-5zM1515.00,1439.7h5v3.3h-5zM1525.00,1440.0h5v1.0h-5zM1530.00,1434.0h5v6.0h-5zM1540.00,1433.4h5v1.2h-5zM1545.00,1433.4h5v1.0h-5zM1550.00,1425.6h5v7.8h-5zM1565.00,1436.4h5v1.0h-5zM1570.00,1435.8h5v1.0h-5zM1585.00,1439.1h5v1.0h-5zM1590.00,1435.5h5v3.6h-5zM1595.00,1432.5h5v3.0h-5zM1600.00,1413.6h5v18.9h-5zM1605.00,1391.4h5v22.2h-5zM1615.00,1369.5h5v22.5h-5zM1624.00,1366.5h5v3.9h-5zM1634.00,1360.5h5v6.9h-5zM1644.00,1366.5h5v1.0h-5zM1654.00,1375.5h5v3.9h-5zM1659.00,1349.1h5v26.4h-5zM1664.00,1346.4h5v2.7h-5zM1679.00,1359.0h5v1.0h-5zM1699.00,1353.6h5v44.4h-5zM1704.00,1344.0h5v9.6h-5zM1709.00,1309.6h5v34.4h-5zM1719.00,1316.5h5v1.0h-5zM1729.00,1305.4h5v12.6h-5zM1739.00,1309.0h5v1.5h-5zM1743.00,1306.0h5v3.0h-5zM1748.00,1288.6h5v17.4h-5zM1753.00,1282.6h5v6.0h-5zM1758.00,1282.0h5v1.0h-5zM1768.00,1315.6h5v2.4h-5zM1773.00,1292.5h5v23.1h-5zM1803.00,1320.4h5v3.0h-5zM1823.00,1323.4h5v5.1h-5zM1828.00,1313.5h5v9.9h-5zM1843.00,1326.4h5v9.0h-5zM1857.00,1327.0h5v15.0h-5zM1862.00,1306.6h5v20.4h-5zM1867.00,1279.6h5v27.0h-5zM1877.00,1281.4h5v1.0h-5zM1882.00,1279.6h5v1.8h-5zM1897.00,1280.5h5v2.1h-5zM1917.00,1286.5h5v3.9h-5zM1932.00,1290.4h5v5.1h-5zM1947.00,1294.6h5v1.8h-5zM1952.00,1294.0h5v1.0h-5zM1967.00,1330.0h5v1.5h-5zM1996.00,1333.6h5v1.8h-5zM2006.00,1325.5h5v9.0h-5zM2011.00,1324.0h5v1.5h-5zM2031.00,1321.6h5v7.8h-5zM2036.00,1316.5h5v5.1h-5zM2041.00,1311.4h5v5.1h-5zM2056.00,1320.4h5v3.6h-5zM2061.00,1306.6h5v13.8h-5zM2066.00,1287.4h5v19.2h-5zM2071.00,1242.4h5v45.0h-5zM2076.00,1237.0h5v5.4h-5zM2081.00,1231.0h5v6.0h-5zM2085.00,1229.5h5v1.5h-5zM2090.00,1222.6h5v6.9h-5zM2095.00,1214.5h5v8.1h-5zM2100.00,1205.5h5v9.0h-5zM2110.00,1211.5h5v11.1h-5zM2115.00,1203.4h5v8.1h-5zM2120.00,1203.4h5v1.0h-5zM2125.00,1201.6h5v1.8h-5zM2130.00,1198.0h5v3.6h-5zM2135.00,1179.4h5v18.6h-5zM2140.00,1126.6h5v52.8h-5zM2145.00,1125.4h5v1.2h-5zM2155.00,1138.6h5v19.8h-5zM2165.00,1131.4h5v26.1h-5zM2185.00,1147.6h5v1.0h-5zM2190.00,1140.4h5v7.2h-5zM2195.00,1127.5h5v12.9h-5zM2199.00,1103.5h5v24.0h-5zM2219.00,1156.0h5v2.4h-5zM2229.00,1149.4h5v23.1h-5zM2234.00,1139.5h5v9.9h-5zM2239.00,1137.4h5v2.1h-5zM2249.00,1112.5h5v30.0h-5zM2254.00,1078.6h5v33.9h-5zM2259.00,1038.4h5v40.2h-5zM2269.00,1033.6h5v5.4h-5zM2279.00,1008.4h5v42.0h-5zM2284.00,932.5h5v75.9h-5zM2289.00,910.6h5v21.9h-5zM2294.00,876.4h5v34.2h-5zM2299.00,850.0h5v26.4h-5zM2304.00,815.5h5v34.5h-5zM2323.00,863.5h5v18.9h-5zM2328.00,837.4h5v26.1h-5zM2333.00,836.5h5v1.0h-5zM2343.00,856.6h5v26.4h-5zM2348.00,813.4h5v43.2h-5zM2368.00,889.6h5v42.0h-5zM2373.00,872.5h5v17.1h-5zM2383.00,901.6h5v1.0h-5zM2393.00,899.5h5v57.0h-5zM2408.00,928.0h5v8.4h-5zM2413.00,865.0h5v63.0h-5zM2418.00,815.5h5v49.5h-5zM2428.00,848.5h5v6.9h-5zM2437.00,857.5h5v1.0h-5zM2442.00,825.4h5v32.1h-5zM2452.00,837.4h5v2.1h-5zM2487.00,912.4h5v27.6h-5zM2502.00,971.5h5v21.0h-5zM2507.00,954.4h5v17.1h-5zM2512.00,889.0h5v65.4h-5zM2517.00,869.5h5v19.5h-5zM2522.00,859.6h5v9.9h-5zM2532.00,851.5h5v27.9h-5zM2551.00,936.4h5v54.0h-5zM2566.00,964.0h5v9.0h-5zM2571.00,932.5h5v31.5h-5zM2576.00,898.0h5v34.5h-5zM2606.00,975.4h5v28.2h-5zM2611.00,945.4h5v30.0h-5zM2616.00,942.4h5v3.0h-5zM2621.00,909.4h5v33.0h-5zM2626.00,907.6h5v1.8h-5zM2631.00,886.6h5v21.0h-5zM2636.00,881.5h5v5.1h-5zM2646.00,922.6h5v15.9h-5zM2651.00,920.5h5v2.1h-5zM2656.00,916.6h5v3.9h-5zM2660.00,877.0h5v39.6h-5zM2665.00,862.0h5v15.0h-5zM2670.00,842.5h5v19.5h-5zM2680.00,864.4h5v5.1h-5zM2685.00,800.5h5v63.9h-5zM2700.00,765.5h5v91.1h-5zM2705.00,713.6h5v51.9h-5zM2710.00,599.6h5v114.0h-5zM2715.00,598.4h5v1.2h-5zM2720.00,577.4h5v21.0h-5zM2725.00,503.6h5v73.8h-5zM2735.00,541.4h5v27.6h-5zM2740.00,522.5h5v18.9h-5zM2745.00,506.6h5v15.9h-5zM2750.00,492.5h5v14.1h-5zM2760.00,474.5h5v54.0h-5zM2765.00,421.4h5v53.1h-5zM2779.00,496.4h5v48.6h-5zM2794.00,511.4h5v51.6h-5zM2799.00,465.5h5v45.9h-5zM2809.00,552.5h5v22.5h-5zM2814.00,484.4h5v68.1h-5zM2819.00,438.5h5v45.9h-5zM2824.00,420.5h5v18.0h-5zM2839.00,437.0h5v29.4h-5zM2864.00,518.6h5v19.8h-5zM2874.00,509.6h5v27.9h-5zM2888.00,649.4h5v20.1h-5zM2893.00,635.6h5v13.8h-5zM2908.00,705.5h5v28.5h-5zM2913.00,688.4h5v17.1h-5zM2918.00,640.4h5v48.0h-5zM2928.00,633.5h5v41.1h-5zM2943.00,681.5h5v7.5h-5zM2953.00,688.4h5v47.1h-5zM2958.00,657.5h5v30.9h-5zM2968.00,667.4h5v9.6h-5zM2973.00,632.6h5v34.8h-5zM2978.00,558.5h5v74.1h-5zM2988.00,557.0h5v4.5h-5zM2993.00,537.5h5v19.5h-5zM2998.00,526.4h5v11.1h-5zM3002.00,456.5h5v69.9h-5zM3012.00,447.5h5v9.5h-5zM3017.00,417.5h5v30.0h-5zM3022.00,380.0h5v37.5h-5zM3032.00,388.8h5v13.2h-5zM3042.00,423.8h5v21.2h-5zM3052.00,425.5h5v47.5h-5zM3057.00,392.5h5v33.0h-5zM3077.00,429.5h5v22.5h-5zM3082.00,411.2h5v18.2h-5zM3087.00,395.5h5v15.8h-5zM3092.00,389.5h5v6.0h-5zM3102.00,388.8h5v8.2h-5zM3107.00,291.2h5v97.5h-5zM3112.00,265.0h5v26.2h-5zM3126.00,277.5h5v17.0h-5zM3146.00,319.5h5v19.5h-5zM3151.00,291.2h5v28.2h-5zM3156.00,270.5h5v20.8h-5zM3161.00,225.0h5v45.5h-5zM3176.00,297.5h5v46.2h-5zM3186.00,348.0h5v27.5h-5zM3196.00,358.0h5v38.2h-5zM152.00,1491.9h5v6.3h-5zM162.00,1494.3h5v5.5h-5zM172.00,1495.2h5v3.7h-5zM177.00,1498.9h5v4.9h-5zM182.00,1505.4h5v1.3h-5zM187.00,1506.7h5v1.7h-5zM207.00,1503.3h5v8.4h-5zM222.00,1504.1h5v3.6h-5zM316.00,1416.2h5v10.5h-5zM326.00,1414.9h5v1.3h-5zM336.00,1410.6h5v10.0h-5zM390.00,1171.6h5v68.4h-5zM405.00,1211.5h5v66.0h-5zM415.00,1262.5h5v19.5h-5zM460.00,992.5h5v78.9h-5zM465.00,1071.4h5v30.0h-5zM475.00,1063.9h5v13.5h-5zM494.00,932.5h5v48.0h-5zM504.00,967.6h5v45.0h-5zM509.00,1012.6h5v31.8h-5zM524.00,959.5h5v19.5h-5zM549.00,909.4h5v80.1h-5zM554.00,989.5h5v27.0h-5zM559.00,1016.5h5v42.0h-5zM574.00,971.5h5v6.0h-5zM579.00,977.5h5v9.0h-5zM589.00,965.5h5v98.1h-5zM593.00,1063.6h5v33.0h-5zM598.00,1096.6h5v43.8h-5zM603.00,1140.4h5v64.2h-5zM613.00,1186.6h5v3.0h-5zM618.00,1189.6h5v33.0h-5zM628.00,1200.4h5v23.1h-5zM633.00,1223.5h5v24.9h-5zM648.00,1167.4h5v27.0h-5zM653.00,1194.4h5v29.1h-5zM658.00,1223.5h5v21.9h-5zM663.00,1245.4h5v10.2h-5zM673.00,1219.6h5v24.0h-5zM678.00,1243.6h5v1.0h-5zM683.00,1244.5h5v9.0h-5zM693.00,1238.5h5v15.9h-5zM698.00,1254.4h5v15.6h-5zM703.00,1270.0h5v19.5h-5zM722.00,1172.5h5v1.5h-5zM727.00,1174.0h5v2.4h-5zM747.00,1084.6h5v21.9h-5zM762.00,1069.0h5v3.0h-5zM767.00,1072.0h5v1.0h-5zM772.00,1072.6h5v19.8h-5zM787.00,1029.4h5v71.1h-5zM792.00,1100.5h5v3.9h-5zM807.00,1078.6h5v85.8h-5zM817.00,1141.6h5v6.9h-5zM836.00,998.5h5v5.1h-5zM861.00,921.4h5v14.1h-5zM866.00,935.5h5v27.9h-5zM881.00,908.5h5v26.1h-5zM891.00,859.6h5v31.8h-5zM901.00,882.4h5v59.2h-5zM906.00,941.6h5v6.9h-5zM911.00,948.5h5v24.9h-5zM916.00,973.4h5v43.2h-5zM926.00,970.4h5v15.0h-5zM931.00,985.4h5v81.0h-5zM940.00,1053.5h5v12.9h-5zM945.00,1066.4h5v12.0h-5zM950.00,1078.4h5v25.2h-5zM965.00,1049.6h5v1.0h-5zM970.00,1050.5h5v49.5h-5zM975.00,1100.0h5v2.4h-5zM985.00,1100.0h5v38.4h-5zM990.00,1138.4h5v13.2h-5zM1000.00,1128.5h5v9.9h-5zM1005.00,1138.4h5v8.1h-5zM1010.00,1146.5h5v66.9h-5zM1030.00,1197.5h5v11.1h-5zM1045.00,1127.6h5v18.9h-5zM1054.00,1144.4h5v23.1h-5zM1059.00,1167.5h5v24.9h-5zM1064.00,1192.4h5v12.0h-5zM1079.00,1122.5h5v60.0h-5zM1084.00,1182.5h5v14.1h-5zM1094.00,1179.5h5v18.9h-5zM1124.00,1092.5h5v18.0h-5zM1134.00,1100.6h5v36.9h-5zM1139.00,1137.5h5v3.9h-5zM1144.00,1141.4h5v31.2h-5zM1159.00,1164.5h5v2.1h-5zM1164.00,1166.6h5v12.9h-5zM1168.00,1179.5h5v2.1h-5zM1173.00,1181.6h5v18.0h-5zM1183.00,1198.4h5v20.1h-5zM1188.00,1218.5h5v68.5h-5zM1193.00,1287.0h5v10.5h-5zM1203.00,1272.0h5v29.1h-5zM1218.00,1291.5h5v10.5h-5zM1228.00,1267.5h5v15.0h-5zM1233.00,1282.5h5v3.9h-5zM1243.00,1284.9h5v19.2h-5zM1248.00,1304.1h5v72.3h-5zM1253.00,1376.4h5v18.6h-5zM1273.00,1388.4h5v11.1h-5zM1278.00,1399.5h5v9.9h-5zM1292.00,1383.0h5v18.0h-5zM1312.00,1365.0h5v6.6h-5zM1317.00,1371.6h5v14.4h-5zM1327.00,1358.4h5v5.1h-5zM1332.00,1363.5h5v6.9h-5zM1352.00,1350.6h5v5.4h-5zM1357.00,1356.0h5v35.1h-5zM1372.00,1383.0h5v21.9h-5zM1382.00,1401.0h5v1.0h-5zM1387.00,1401.6h5v12.9h-5zM1401.00,1374.0h5v30.6h-5zM1406.00,1404.6h5v2.4h-5zM1411.00,1407.0h5v11.4h-5zM1441.00,1401.6h5v5.4h-5zM1446.00,1407.0h5v3.0h-5zM1461.00,1409.1h5v1.0h-5zM1481.00,1394.4h5v3.6h-5zM1491.00,1386.6h5v30.9h-5zM1496.00,1417.5h5v17.1h-5zM1501.00,1434.6h5v3.9h-5zM1506.00,1438.5h5v1.0h-5zM1510.00,1439.1h5v3.9h-5zM1520.00,1439.7h5v1.0h-5zM1535.00,1434.0h5v1.0h-5zM1555.00,1425.6h5v10.8h-5zM1560.00,1436.4h5v1.0h-5zM1575.00,1435.8h5v1.8h-5zM1580.00,1437.6h5v2.4h-5zM1610.00,1391.4h5v1.0h-5zM1620.00,1369.5h5v1.0h-5zM1629.00,1366.5h5v1.0h-5zM1639.00,1360.5h5v6.9h-5zM1649.00,1366.5h5v12.9h-5zM1669.00,1346.4h5v9.0h-5zM1674.00,1355.4h5v4.2h-5zM1684.00,1359.0h5v14.4h-5zM1689.00,1373.4h5v2.1h-5zM1694.00,1375.5h5v22.5h-5zM1714.00,1309.6h5v7.8h-5zM1724.00,1316.5h5v1.5h-5zM1734.00,1305.4h5v5.1h-5zM1763.00,1282.0h5v36.0h-5zM1778.00,1292.5h5v3.0h-5zM1783.00,1295.5h5v2.1h-5zM1788.00,1297.6h5v3.0h-5zM1793.00,1300.6h5v12.9h-5zM1798.00,1313.5h5v9.9h-5zM1808.00,1320.4h5v2.1h-5zM1813.00,1322.5h5v1.5h-5zM1818.00,1324.0h5v4.5h-5zM1833.00,1313.5h5v4.5h-5zM1838.00,1318.0h5v17.4h-5zM1848.00,1326.4h5v1.2h-5zM1853.00,1327.6h5v14.4h-5zM1872.00,1279.6h5v2.4h-5zM1887.00,1279.6h5v1.8h-5zM1892.00,1281.4h5v1.2h-5zM1902.00,1280.5h5v3.0h-5zM1907.00,1283.5h5v1.5h-5zM1912.00,1285.0h5v5.4h-5zM1922.00,1286.5h5v7.5h-5zM1927.00,1294.0h5v1.5h-5zM1937.00,1290.4h5v5.1h-5zM1942.00,1295.5h5v1.0h-5zM1957.00,1294.0h5v7.5h-5zM1962.00,1301.5h5v30.0h-5zM1971.00,1330.0h5v1.0h-5zM1976.00,1330.9h5v1.0h-5zM1981.00,1331.5h5v1.0h-5zM1986.00,1332.4h5v1.2h-5zM1991.00,1333.6h5v1.8h-5zM2001.00,1333.6h5v1.0h-5zM2016.00,1324.0h5v1.0h-5zM2021.00,1324.6h5v3.9h-5zM2026.00,1328.5h5v1.0h-5zM2046.00,1311.4h5v3.0h-5zM2051.00,1314.4h5v9.6h-5zM2105.00,1205.5h5v17.1h-5zM2150.00,1125.4h5v33.0h-5zM2160.00,1138.6h5v18.9h-5zM2170.00,1131.4h5v1.0h-5zM2175.00,1132.0h5v12.0h-5zM2180.00,1144.0h5v4.5h-5zM2204.00,1103.5h5v37.5h-5zM2209.00,1141.0h5v3.0h-5zM2214.00,1144.0h5v14.4h-5zM2224.00,1156.0h5v16.5h-5zM2244.00,1137.4h5v5.1h-5zM2264.00,1038.4h5v1.0h-5zM2274.00,1033.6h5v16.8h-5zM2309.00,815.5h5v21.9h-5zM2313.00,837.4h5v21.0h-5zM2318.00,858.4h5v24.0h-5zM2338.00,836.5h5v46.5h-5zM2353.00,813.4h5v18.0h-5zM2358.00,831.4h5v50.1h-5zM2363.00,881.5h5v50.1h-5zM2378.00,872.5h5v29.1h-5zM2388.00,901.6h5v54.9h-5zM2398.00,899.5h5v33.0h-5zM2403.00,932.5h5v3.9h-5zM2423.00,815.5h5v39.9h-5zM2432.00,848.5h5v9.0h-5zM2447.00,825.4h5v14.1h-5zM2457.00,837.4h5v30.6h-5zM2462.00,868.0h5v1.5h-5zM2467.00,869.5h5v18.9h-5zM2472.00,888.4h5v9.0h-5zM2477.00,897.4h5v27.6h-5zM2482.00,925.0h5v15.0h-5zM2492.00,912.4h5v67.2h-5zM2497.00,979.6h5v12.9h-5zM2527.00,859.6h5v19.8h-5zM2537.00,851.5h5v40.5h-5zM2542.00,892.0h5v45.6h-5zM2546.00,937.6h5v52.8h-5zM2556.00,936.4h5v17.1h-5zM2561.00,953.5h5v19.5h-5zM2581.00,898.0h5v54.0h-5zM2586.00,952.0h5v3.0h-5zM2591.00,955.0h5v1.0h-5zM2596.00,955.6h5v33.9h-5zM2601.00,989.5h5v14.1h-5zM2641.00,881.5h5v57.0h-5zM2675.00,842.5h5v27.0h-5zM2690.00,800.5h5v36.9h-5zM2695.00,837.4h5v19.2h-5zM2730.00,503.6h5v65.4h-5zM2755.00,492.5h5v36.0h-5zM2770.00,421.4h5v98.1h-5zM2774.00,519.5h5v25.5h-5zM2784.00,496.4h5v47.1h-5zM2789.00,543.5h5v19.5h-5zM2804.00,465.5h5v109.5h-5zM2829.00,420.5h5v15.0h-5zM2834.00,435.5h5v30.9h-5zM2844.00,437.0h5v79.5h-5zM2849.00,516.5h5v12.9h-5zM2854.00,529.4h5v1.0h-5zM2859.00,530.0h5v8.4h-5zM2869.00,518.6h5v18.9h-5zM2879.00,509.6h5v23.4h-5zM2884.00,533.0h5v136.5h-5zM2898.00,635.6h5v4.8h-5zM2903.00,640.4h5v93.6h-5zM2923.00,640.4h5v34.2h-5zM2933.00,633.5h5v33.9h-5zM2938.00,667.4h5v21.6h-5zM2948.00,681.5h5v54.0h-5zM2963.00,657.5h5v19.5h-5zM2983.00,558.5h5v3.0h-5zM3007.00,456.5h5v1.0h-5zM3027.00,380.0h5v22.0h-5zM3037.00,388.8h5v56.2h-5zM3047.00,423.8h5v49.2h-5zM3062.00,392.5h5v35.5h-5zM3067.00,428.0h5v10.0h-5zM3072.00,438.0h5v14.0h-5zM3097.00,389.5h5v7.5h-5zM3116.00,265.0h5v7.0h-5zM3121.00,272.0h5v22.5h-5zM3131.00,277.5h5v8.8h-5zM3136.00,286.2h5v1.0h-5zM3141.00,287.0h5v52.0h-5zM3166.00,225.0h5v67.0h-5zM3171.00,292.0h5v51.8h-5zM3181.00,297.5h5v78.0h-5zM3191.00,348.0h5v48.2h-5zM3201.00,357.5h5v7.0h-5z" fill="#000"/>
<path d="M158.00,1495.3h3v2.0h-3zM168.00,1496.2h3v2.6h-3zM198.00,1504.3h3v1.8h-3zM213.00,1507.4h3v3.3h-3zM218.00,1505.1h3v0.4h-3zM238.00,1500.2h3v2.6h-3zM252.00,1493.2h3v4.3h-3zM257.00,1482.4h3v8.8h-3zM267.00,1477.1h3v2.0h-3zM272.00,1473.2h3v2.0h-3zM277.00,1468.6h3v2.6h-3zM282.00,1460.7h3v5.9h-3zM287.00,1456.1h3v2.6h-3zM292.00,1443.6h3v10.5h-3zM297.00,1439.6h3v2.0h-3zM302.00,1426.4h3v11.2h-3zM307.00,1419.5h3v5.0h-3zM312.00,1417.2h3v0.2h-3zM322.00,1415.9h3v9.9h-3zM332.00,1411.6h3v3.7h-3zM342.00,1411.9h3v7.6h-3zM347.00,1386.3h3v23.7h-3zM352.00,1358.0h3v26.3h-3zM362.00,1349.0h3v7.0h-3zM366.00,1322.0h3v25.0h-3zM371.00,1300.4h3v19.6h-3zM376.00,1253.6h3v44.8h-3zM381.00,1210.4h3v41.2h-3zM386.00,1172.6h3v35.8h-3zM396.00,1212.5h3v26.5h-3zM411.00,1263.5h3v13.0h-3zM421.00,1239.5h3v41.5h-3zM426.00,1225.4h3v12.1h-3zM431.00,1193.0h3v30.4h-3zM436.00,1101.5h3v89.5h-3zM441.00,1083.5h3v16.0h-3zM446.00,1076.6h3v4.9h-3zM451.00,1036.4h3v38.2h-3zM456.00,993.5h3v40.9h-3zM471.00,1064.9h3v35.5h-3zM480.00,1049.6h3v26.8h-3zM485.00,993.5h3v54.1h-3zM490.00,933.5h3v58.0h-3zM500.00,968.6h3v10.9h-3zM515.00,994.4h3v49.0h-3zM520.00,960.5h3v31.9h-3zM530.00,969.5h3v8.5h-3zM540.00,948.5h3v16.9h-3zM545.00,910.4h3v36.1h-3zM565.00,1003.4h3v54.1h-3zM570.00,972.5h3v28.9h-3zM585.00,966.5h3v19.0h-3zM609.00,1187.6h3v16.0h-3zM624.00,1201.4h3v20.2h-3zM639.00,1204.4h3v43.0h-3zM644.00,1168.4h3v34.0h-3zM669.00,1220.6h3v34.0h-3zM689.00,1239.5h3v13.0h-3zM708.00,1247.0h3v41.5h-3zM713.00,1205.6h3v39.4h-3zM718.00,1173.5h3v30.1h-3zM733.00,1122.5h3v52.9h-3zM738.00,1110.5h3v10.0h-3zM743.00,1085.6h3v22.9h-3zM753.00,1097.6h3v7.9h-3zM758.00,1070.0h3v25.6h-3zM778.00,1061.0h3v30.4h-3zM783.00,1030.4h3v28.6h-3zM798.00,1081.4h3v22.0h-3zM813.00,1142.6h3v20.8h-3zM822.00,1130.6h3v16.9h-3zM827.00,1080.5h3v48.1h-3zM832.00,999.5h3v79.0h-3zM842.00,992.6h3v10.0h-3zM847.00,927.5h3v63.1h-3zM852.00,923.0h3v2.5h-3zM872.00,926.0h3v36.4h-3zM877.00,909.5h3v14.5h-3zM887.00,860.6h3v73.0h-3zM897.00,883.4h3v7.0h-3zM922.00,971.4h3v44.2h-3zM937.00,1054.5h3v10.9h-3zM956.00,1095.6h3v7.0h-3zM961.00,1050.6h3v43.0h-3zM981.00,1101.0h3v0.4h-3zM996.00,1129.5h3v21.1h-3zM1021.00,1206.0h3v4.6h-3zM1026.00,1198.5h3v5.5h-3zM1036.00,1158.6h3v49.0h-3zM1041.00,1128.6h3v28.0h-3zM1070.00,1185.0h3v18.4h-3zM1075.00,1123.5h3v59.5h-3zM1090.00,1180.5h3v15.1h-3zM1100.00,1161.6h3v35.8h-3zM1105.00,1149.6h3v10.0h-3zM1115.00,1125.6h3v19.9h-3zM1120.00,1093.5h3v30.1h-3zM1130.00,1101.6h3v7.9h-3zM1150.00,1166.4h3v5.2h-3zM1199.00,1273.0h3v23.5h-3zM1209.00,1294.0h3v6.1h-3zM1224.00,1268.5h3v32.5h-3zM1264.00,1390.0h3v3.4h-3zM1283.00,1400.5h3v7.9h-3zM1288.00,1384.0h3v14.5h-3zM1298.00,1394.5h3v5.5h-3zM1308.00,1366.0h3v24.4h-3zM1323.00,1359.4h3v25.6h-3zM1338.00,1366.0h3v3.4h-3zM1343.00,1357.0h3v7.0h-3zM1348.00,1351.6h3v3.4h-3zM1363.00,1385.5h3v4.6h-3zM1378.00,1402.0h3v1.9h-3zM1393.00,1386.4h3v27.1h-3zM1397.00,1375.0h3v9.4h-3zM1417.00,1414.0h3v3.4h-3zM1427.00,1409.5h3v1.0h-3zM1432.00,1406.5h3v1.0h-3zM1437.00,1402.6h3v1.9h-3zM1472.00,1399.0h3v8.5h-3zM1477.00,1395.4h3v1.6h-3zM1487.00,1387.6h3v9.4h-3zM1516.00,1440.7h3v1.3h-3zM1531.00,1435.0h3v4.0h-3zM1551.00,1426.6h3v5.8h-3zM1591.00,1436.5h3v1.6h-3zM1596.00,1433.5h3v1.0h-3zM1601.00,1414.6h3v16.9h-3zM1606.00,1392.4h3v20.2h-3zM1616.00,1370.5h3v20.5h-3zM1625.00,1367.5h3v1.9h-3zM1635.00,1361.5h3v4.9h-3zM1655.00,1376.5h3v1.9h-3zM1660.00,1350.1h3v24.4h-3zM1665.00,1347.4h3v0.7h-3zM1700.00,1354.6h3v42.4h-3zM1705.00,1345.0h3v7.6h-3zM1710.00,1310.6h3v32.4h-3zM1730.00,1306.4h3v10.6h-3zM1744.00,1307.0h3v1.0h-3zM1749.00,1289.6h3v15.4h-3zM1754.00,1283.6h3v4.0h-3zM1769.00,1316.6h3v0.4h-3zM1774.00,1293.5h3v21.1h-3zM1804.00,1321.4h3v1.0h-3zM1824.00,1324.4h3v3.1h-3zM1829.00,1314.5h3v7.9h-3zM1844.00,1327.4h3v7.0h-3zM1858.00,1328.0h3v13.0h-3zM1863.00,1307.6h3v18.4h-3zM1868.00,1280.6h3v25.0h-3zM1918.00,1287.5h3v1.9h-3zM1933.00,1291.4h3v3.1h-3zM2007.00,1326.5h3v7.0h-3zM2032.00,1322.6h3v5.8h-3zM2037.00,1317.5h3v3.1h-3zM2042.00,1312.4h3v3.1h-3zM2057.00,1321.4h3v1.6h-3zM2062.00,1307.6h3v11.8h-3zM2067.00,1288.4h3v17.2h-3zM2072.00,1243.4h3v43.0h-3zM2077.00,1238.0h3v3.4h-3zM2082.00,1232.0h3v4.0h-3zM2091.00,1223.6h3v4.9h-3zM2096.00,1215.5h3v6.1h-3zM2101.00,1206.5h3v7.0h-3zM2111.00,1212.5h3v9.1h-3zM2116.00,1204.4h3v6.1h-3zM2131.00,1199.0h3v1.6h-3zM2136.00,1180.4h3v16.6h-3zM2141.00,1127.6h3v50.8h-3zM2156.00,1139.6h3v17.8h-3zM2166.00,1132.4h3v24.1h-3zM2191.00,1141.4h3v5.2h-3zM2196.00,1128.5h3v10.9h-3zM2200.00,1104.5h3v22.0h-3zM2220.00,1157.0h3v0.4h-3zM2230.00,1150.4h3v21.1h-3zM2235.00,1140.5h3v7.9h-3zM2250.00,1113.5h3v28.0h-3zM2255.00,1079.6h3v31.9h-3zM2260.00,1039.4h3v38.2h-3zM2270.00,1034.6h3v3.4h-3zM2280.00,1009.4h3v40.0h-3zM2285.00,933.5h3v73.9h-3zM2290.00,911.6h3v19.9h-3zM2295.00,877.4h3v32.2h-3zM2300.00,851.0h3v24.4h-3zM2305.00,816.5h3v32.5h-3zM2324.00,864.5h3v16.9h-3zM2329.00,838.4h3v24.1h-3zM2344.00,857.6h3v24.4h-3zM2349.00,814.4h3v41.2h-3zM2369.00,890.6h3v40.0h-3zM2374.00,873.5h3v15.1h-3zM2394.00,900.5h3v55.0h-3zM2409.00,929.0h3v6.4h-3zM2414.00,866.0h3v61.0h-3zM2419.00,816.5h3v47.5h-3zM2429.00,849.5h3v4.9h-3zM2443.00,826.4h3v30.1h-3zM2488.00,913.4h3v25.6h-3zM2503.00,972.5h3v19.0h-3zM2508.00,955.4h3v15.1h-3zM2513.00,890.0h3v63.4h-3zM2518.00,870.5h3v17.5h-3zM2523.00,860.6h3v7.9h-3zM2533.00,852.5h3v25.9h-3zM2552.00,937.4h3v52.0h-3zM2567.00,965.0h3v7.0h-3zM2572.00,933.5h3v29.5h-3zM2577.00,899.0h3v32.5h-3zM2607.00,976.4h3v26.2h-3zM2612.00,946.4h3v28.0h-3zM2617.00,943.4h3v1.0h-3zM2622.00,910.4h3v31.0h-3zM2632.00,887.6h3v19.0h-3zM2637.00,882.5h3v3.1h-3zM2647.00,923.6h3v13.9h-3zM2657.00,917.6h3v1.9h-3zM2661.00,878.0h3v37.6h-3zM2666.00,863.0h3v13.0h-3zM2671.00,843.5h3v17.5h-3zM2681.00,865.4h3v3.1h-3zM2686.00,801.5h3v61.9h-3zM2701.00,766.5h3v89.1h-3zM2706.00,714.6h3v49.9h-3zM2711.00,600.6h3v112.0h-3zM2721.00,578.4h3v19.0h-3zM2726.00,504.6h3v71.8h-3zM2736.00,542.4h3v25.6h-3zM2741.00,523.5h3v16.9h-3zM2746.00,507.6h3v13.9h-3zM2751.00,493.5h3v12.1h-3zM2761.00,475.5h3v52.0h-3zM2766.00,422.4h3v51.1h-3zM2780.00,497.4h3v46.6h-3zM2795.00,512.4h3v49.6h-3zM2800.00,466.5h3v43.9h-3zM2810.00,553.5h3v20.5h-3zM2815.00,485.4h3v66.1h-3zM2820.00,439.5h3v43.9h-3zM2825.00,421.5h3v16.0h-3zM2840.00,438.0h3v27.4h-3zM2865.00,519.6h3v17.8h-3zM2875.00,510.6h3v25.9h-3zM2889.00,650.4h3v18.1h-3zM2894.00,636.6h3v11.8h-3zM2909.00,706.5h3v26.5h-3zM2914.00,689.4h3v15.1h-3zM2919.00,641.4h3v46.0h-3zM2929.00,634.5h3v39.1h-3zM2944.00,682.5h3v5.5h-3zM2954.00,689.4h3v45.1h-3zM2959.00,658.5h3v28.9h-3zM2969.00,668.4h3v7.6h-3zM2974.00,633.6h3v32.8h-3zM2979.00,559.5h3v72.1h-3zM2989.00,558.0h3v2.5h-3zM2994.00,538.5h3v17.5h-3zM2999.00,527.4h3v9.1h-3zM3003.00,457.5h3v67.9h-3zM3013.00,448.5h3v7.5h-3zM3018.00,418.5h3v28.0h-3zM3023.00,381.0h3v35.5h-3zM3033.00,389.8h3v11.2h-3zM3043.00,424.8h3v19.2h-3zM3053.00,426.5h3v45.5h-3zM3058.00,393.5h3v31.0h-3zM3078.00,430.5h3v20.5h-3zM3083.00,412.2h3v16.2h-3zM3088.00,396.5h3v13.8h-3zM3093.00,390.5h3v4.0h-3zM3103.00,389.8h3v6.2h-3zM3108.00,292.2h3v95.5h-3zM3113.00,266.0h3v24.2h-3zM3127.00,278.5h3v15.0h-3zM3147.00,320.5h3v17.5h-3zM3152.00,292.2h3v26.2h-3zM3157.00,271.5h3v18.8h-3zM3162.00,226.0h3v43.5h-3zM3177.00,298.5h3v44.2h-3zM3187.00,349.0h3v25.5h-3zM3197.00,359.0h3v36.2h-3z" fill="#69c16e"/>
</g>
<rect x="24.7" y="55.8" width="123" height="46.3" rx="8" fill="#fff" stroke="#f0f0f3" stroke-width="1.2"/>
<text x="42.0" y="85.6" font-size="21.6" fill="#000" textLength="58.0" lengthAdjust="spacingAndGlyphs" stroke="#000" stroke-width="0.45">USDT</text>
<text x="168.6" y="85.0" font-size="21.6" fill="#b2b5be" textLength="329.8" lengthAdjust="spacingAndGlyphs" stroke="#b2b5be" stroke-width="0.45">Bitcoin / TetherUS · 3D · Binance</text>
<text x="511.8" y="85.0" font-size="21.6" fill="#b2b5be" textLength="14.5" lengthAdjust="spacingAndGlyphs" stroke="#b2b5be" stroke-width="0.45">O</text>
<text x="528.8" y="85.0" font-size="21.6" fill="#000" textLength="102.5" lengthAdjust="spacingAndGlyphs" stroke="#000" stroke-width="0.45">111,705.72</text>
<text x="645.5" y="85.0" font-size="21.6" fill="#b2b5be" textLength="12.9" lengthAdjust="spacingAndGlyphs" stroke="#b2b5be" stroke-width="0.45">H</text>
<text x="661.0" y="85.0" font-size="21.6" fill="#000" textLength="109.5" lengthAdjust="spacingAndGlyphs" stroke="#000" stroke-width="0.45">113,384.62</text>
<text x="785.8" y="85.0" font-size="21.6" fill="#b2b5be" textLength="9.2" lengthAdjust="spacingAndGlyphs" stroke="#b2b5be" stroke-width="0.45">L</text>
<text x="797.3" y="85.0" font-size="21.6" fill="#000" textLength="108.3" lengthAdjust="spacingAndGlyphs" stroke="#000" stroke-width="0.45">109,329.12</text>
<text x="919.6" y="85.0" font-size="21.6" fill="#b2b5be" textLength="13.5" lengthAdjust="spacingAndGlyphs" stroke="#b2b5be" stroke-width="0.45">C</text>
<text x="935.4" y="85.0" font-size="21.6" fill="#000" textLength="101.2" lengthAdjust="spacingAndGlyphs" stroke="#000" stroke-width="0.45">111,031.57</text>
<text x="1050.9" y="85.0" font-size="21.6" fill="#000" textLength="180.1" lengthAdjust="spacingAndGlyphs" stroke="#000" stroke-width="0.45">−674.14 (−0.60%)</text>
<text x="1245.7" y="85.0" font-size="21.6" fill="#b2b5be" textLength="30.2" lengthAdjust="spacingAndGlyphs" stroke="#b2b5be" stroke-width="0.45">Vol</text>
<text x="1277.9" y="85.0" font-size="21.6" fill="#000" textLength="53.1" lengthAdjust="spacingAndGlyphs" stroke="#000" stroke-width="0.45">26.41</text>
<text x="1336.8" y="85.0" font-size="21.6" fill="#000" textLength="12.0" lengthAdjust="spacingAndGlyphs" stroke="#000" stroke-width="0.45">K</text>
<text x="1363.2" y="85.0" font-size="21.6" fill="#000" textLength="179.8" lengthAdjust="spacingAndGlyphs" stroke="#000" stroke-width="0.45">+302.21 (+0.27%)</text>
<text x="168.6" y="116.0" font-size="21.6" fill="#b2b5be" textLength="301.7" lengthAdjust="spacingAndGlyphs" stroke="#b2b5be" stroke-width="0.45">CandelaCharts - Investor Tool</text>
<text x="483.5" y="116.0" font-size="21.6" fill="#f23645" textLength="99.6" lengthAdjust="spacingAndGlyphs" stroke="#f23645" stroke-width="0.45">71,490.64</text>
<text x="597.2" y="116.0" font-size="21.6" fill="#4caf50" textLength="108.6" lengthAdjust="spacingAndGlyphs" stroke="#4caf50" stroke-width="0.45">115,025.09</text>
<text x="720.3" y="116.0" font-size="21.6" fill="#089981" textLength="99.1" lengthAdjust="spacingAndGlyphs" stroke="#089981" stroke-width="0.45">30,927.58</text>
<text x="833.5" y="116.0" font-size="21.6" fill="#ff9800" textLength="99.0" lengthAdjust="spacingAndGlyphs" stroke="#ff9800" stroke-width="0.45">32,421.28</text>
<text x="947.4" y="116.0" font-size="21.6" fill="#00bcd4" textLength="99.9" lengthAdjust="spacingAndGlyphs" stroke="#00bcd4" stroke-width="0.45">29,404.41</text>
<text x="1061.0" y="116.0" font-size="21.6" fill="#9c27b0" textLength="99.2" lengthAdjust="spacingAndGlyphs" stroke="#9c27b0" stroke-width="0.45">31,025.69</text>
<rect x="28" y="198.9" width="178.9" height="25" rx="3.5" fill="#e3effd"/>
<text x="140.6" y="216.7" font-size="17.8" fill="#000" text-anchor="end" stroke="#000" stroke-width="0.3" letter-spacing="1.4">124,474.00</text>
<text x="160.0" y="217.1" font-size="18.2" fill="#000" textLength="39.0" lengthAdjust="spacingAndGlyphs" stroke="#000" stroke-width="0.3">High</text>
<rect x="51.8" y="1504.6" width="149.8" height="24.2" rx="3.5" fill="#e3effd"/>
<text x="140.6" y="1522.2" font-size="17.8" fill="#000" text-anchor="end" stroke="#000" stroke-width="0.3" letter-spacing="1.4">9,825.00</text>
<text x="160.7" y="1522.6" font-size="18.2" fill="#000" textLength="33.5" lengthAdjust="spacingAndGlyphs" stroke="#000" stroke-width="0.3">Low</text>
<path d="M31.5,307.2H153.8V332H31.5Q28,332 28,328.5V310.7Q28,307.2 31.5,307.2z" fill="#4caf50"/>
<text x="140.6" y="324.6" font-size="17.8" fill="#fff" text-anchor="end" stroke="#fff" stroke-width="0.3" letter-spacing="1.4">115,025.09</text>
<path d="M42.5,802.2H153.8V827.2H42.5Q39,827.2 39,823.7V805.7Q39,802.2 42.5,802.2z" fill="#f23645"/>
<text x="140.6" y="819.6" font-size="17.8" fill="#fff" text-anchor="end" stroke="#fff" stroke-width="0.3" letter-spacing="1.4">71,490.64</text>
<path d="M42.5,1247.6H153.8V1272.2H42.5Q39,1272.2 39,1268.7V1251.1Q39,1247.6 42.5,1247.6z" fill="#ff9800"/>
<text x="140.6" y="1265.0" font-size="17.8" fill="#000" text-anchor="end" stroke="#000" stroke-width="0.3" letter-spacing="1.4">32,421.28</text>
<path d="M42.5,1273.0H153.8V1297.5H42.5Q39,1297.5 39,1294.0V1276.5Q39,1273.0 42.5,1273.0z" fill="#9c27b0"/>
<text x="140.6" y="1290.4" font-size="17.8" fill="#fff" text-anchor="end" stroke="#fff" stroke-width="0.3" letter-spacing="1.4">31,025.69</text>
<path d="M42.5,1298.6H153.8V1323.2H42.5Q39,1323.2 39,1319.7V1302.1Q39,1298.6 42.5,1298.6z" fill="#089981"/>
<text x="140.6" y="1316.0" font-size="17.8" fill="#fff" text-anchor="end" stroke="#fff" stroke-width="0.3" letter-spacing="1.4">30,927.58</text>
<path d="M42.5,1324.0H153.8V1348.4H42.5Q39,1348.4 39,1344.9V1327.5Q39,1324.0 42.5,1324.0z" fill="#00bcd4"/>
<text x="140.6" y="1341.4" font-size="17.8" fill="#000" text-anchor="end" stroke="#000" stroke-width="0.3" letter-spacing="1.4">29,404.41</text>
<path d="M31.5,352.3H153.8V397.7H31.5Q28,397.7 28,394.2V355.8Q28,352.3 31.5,352.3z" fill="#000"/>
<text x="140.6" y="369.6" font-size="17.8" fill="#fff" text-anchor="end" stroke="#fff" stroke-width="0.3" letter-spacing="1.4">111,031.57</text>
<text x="140.2" y="390.6" font-size="17.8" fill="#d1d4dc" text-anchor="end" stroke="#d1d4dc" stroke-width="0.3" letter-spacing="1.0">1d 10h</text>
<text x="3274.7" y="1648.8" font-size="14.4" fill="#787b86" font-family="'Liberation Mono', monospace" textLength="129.3" lengthAdjust="spacingAndGlyphs" stroke="#787b86" stroke-width="0.3">© CandelaCharts</text>
<g fill="#131313">
<path d="M21.4,1761.1H43.3V1787.2H32.4V1770.8H21.4z"/>
<circle cx="52.2" cy="1765.9" r="5"/>
<path d="M61.6,1761.1H75.2L64.7,1787.2H52.9z"/>
</g>
<text x="88.3" y="1787.2" font-size="36.5" fill="#131313" font-weight="bold" textLength="218.0" lengthAdjust="spacingAndGlyphs">TradingView</text>
</svg>
</body></html>
